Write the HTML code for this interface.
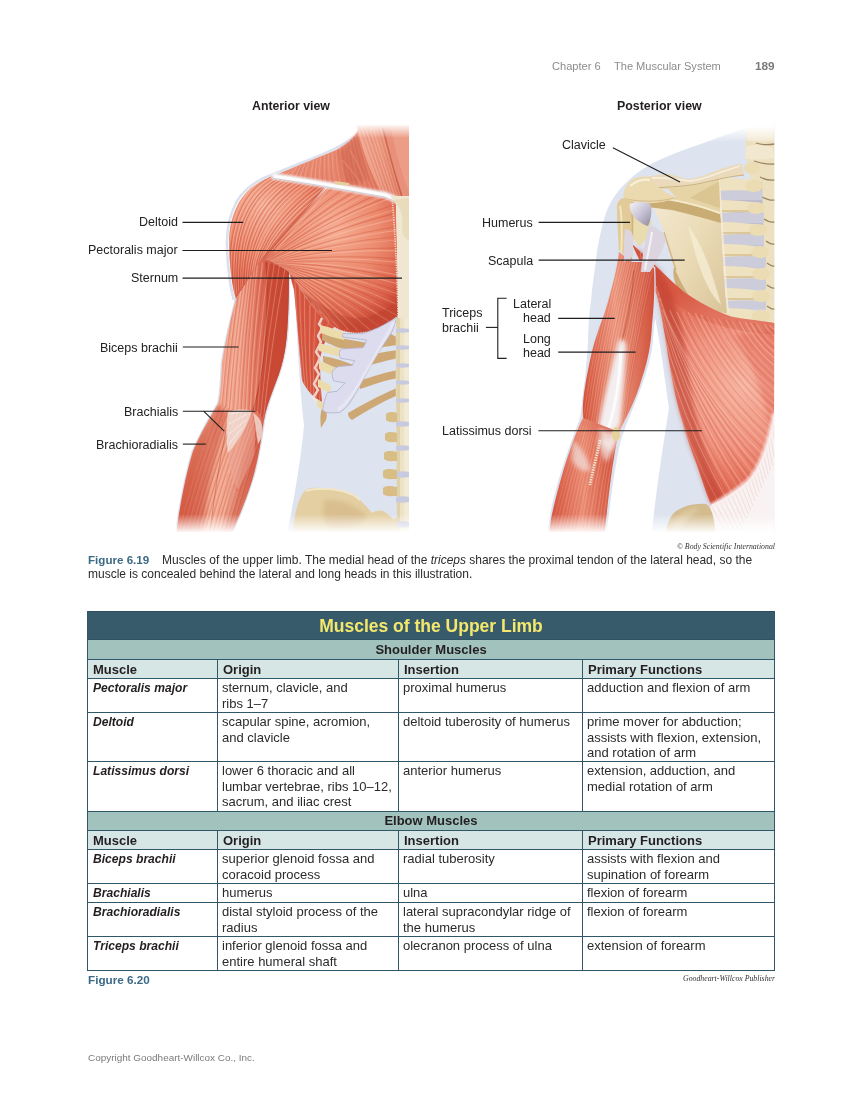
<!DOCTYPE html>
<html><head><meta charset="utf-8"><style>
html,body{margin:0;padding:0;background:#fff;}
body{width:849px;height:1112px;position:relative;overflow:hidden;font-family:"Liberation Sans", sans-serif;}
.t{position:absolute;white-space:nowrap;will-change:transform;}
svg{position:absolute;left:0;top:0;}
</style></head><body>
<svg width="849" height="1112" viewBox="0 0 849 1112">
<defs><linearGradient id="fadeB" x1="0" y1="0" x2="0" y2="1"><stop offset="0" stop-color="#fff" stop-opacity="0"/><stop offset="1" stop-color="#fff" stop-opacity="1"/></linearGradient>
<linearGradient id="fadeT" x1="0" y1="0" x2="0" y2="1"><stop offset="0" stop-color="#fff" stop-opacity="1"/><stop offset="1" stop-color="#fff" stop-opacity="0"/></linearGradient>
<filter id="blur06" x="-5%" y="-50%" width="110%" height="200%"><feGaussianBlur stdDeviation="0.7"/></filter>
<filter id="blur1" x="-20%" y="-20%" width="140%" height="140%"><feGaussianBlur stdDeviation="2"/></filter>
<filter id="fblur" x="-2%" y="-2%" width="104%" height="104%"><feGaussianBlur stdDeviation="0.35"/></filter>
<filter id="blur12" x="-10%" y="-100%" width="120%" height="300%"><feGaussianBlur stdDeviation="1.1"/></filter>
<clipPath id="clipL"><rect x="150" y="120" width="259" height="420"/></clipPath>
<clipPath id="clipR"><rect x="520" y="120" width="254.5" height="420"/></clipPath>
<clipPath id="cNeck"><path d="M360,122 L409,122 L409,206 L390,197 C370,192 350,188 330,184 C320,182 300,179 276,175 C291,168 310,161 336,150 C350,143 359,134 360,122 Z"/></clipPath>
<linearGradient id="gNeck" x1="0" y1="0" x2="1" y2="1"><stop offset="0" stop-color="#ee9a82"/><stop offset="0.6" stop-color="#e6826a"/><stop offset="1" stop-color="#dc6a52"/></linearGradient>
<clipPath id="cSCM"><path d="M356,124 C362,150 370,172 382,194 L404,201 C396,175 388,150 382,124 Z"/></clipPath>
<linearGradient id="gSCM" x1="0" y1="0" x2="1" y2="0"><stop offset="0" stop-color="#f2ad98"/><stop offset="0.5" stop-color="#ec9880"/><stop offset="1" stop-color="#df7a62"/></linearGradient>
<clipPath id="cDelt"><path d="M276,175 C300,179 315,182 327,184 C312,203 292,225 268,252 C258,266 246,282 236,299 C232,288 229,262 229,242 C229,228 232,215 239,202 C248,188 260,180 276,175 Z"/></clipPath>
<radialGradient id="gDelt" cx="268" cy="210" r="75" fx="262" fy="205" gradientUnits="userSpaceOnUse"><stop offset="0" stop-color="#f6b39b"/><stop offset="0.55" stop-color="#ec8a6e"/><stop offset="1" stop-color="#dc6047"/></radialGradient>
<clipPath id="cPec"><path d="M327,184 C350,188 370,192 390,196 L396,204 C397,240 398,290 398,316 C390,322 378,331 367,332 C355,334 344,333 334,327 C322,318 311,306 302,292 C297,283 293,276 289,272 C281,266 272,261 262,258 C290,225 310,205 327,188 Z"/></clipPath>
<radialGradient id="gPec" cx="325" cy="230" r="100" fx="335" fy="230" gradientUnits="userSpaceOnUse"><stop offset="0" stop-color="#f6ae94"/><stop offset="0.5" stop-color="#ec8a6e"/><stop offset="0.85" stop-color="#dc644c"/><stop offset="1" stop-color="#cc4b36"/></radialGradient>
<clipPath id="cSerr"><path d="M289,272 C293,276 297,283 302,292 C311,306 322,318 334,327 C328,335 322,345 320,360 C320,375 321,390 322,402 C314,398 306,390 302,380 C299,350 297,320 294,290 Z"/></clipPath>
<clipPath id="cArm"><path d="M236,299 C246,282 256,268 262,258 C272,261 281,266 289,272 C289,300 288,335 285,350 C283,362 280,372 276,382 C270,398 266,408 264,420 C261,440 259,455 255,470 C250,490 242,510 229,540 L176,540 L178,520 C182,495 187,470 193,451 C202,430 212,414 218,404 C220,398 221,386 222,363 C226,338 231,318 236,299 Z"/></clipPath>
<linearGradient id="gArm" x1="0" y1="0" x2="1" y2="0"><stop offset="0" stop-color="#da5c43"/><stop offset="0.3" stop-color="#f2a88f"/><stop offset="0.55" stop-color="#f0a088"/><stop offset="0.8" stop-color="#d9604a"/><stop offset="1" stop-color="#c4432f"/></linearGradient>
<clipPath id="cLat"><path d="M632,244 C640,262 650,280 657,295 C661,310 665,335 668,355 C672,380 677,405 682,420 C686,435 691,450 697,465 C702,480 707,495 711,505 C722,500 735,492 747,482 C760,470 770,440 774,413 L774.5,323 C755,320 742,319 731,316.6 C722,313 714,310 707,306 C698,301 691,297 684,292 C676,285 668,278 660,270 C651,262 642,253 632,244 Z"/></clipPath>
<radialGradient id="gLat" cx="735" cy="390" r="115" fx="745" fy="385" gradientUnits="userSpaceOnUse"><stop offset="0" stop-color="#f6b4a2"/><stop offset="0.5" stop-color="#ef927e"/><stop offset="1" stop-color="#dc5e48"/></radialGradient>
<clipPath id="cFascia"><path d="M711,505 C722,500 735,492 747,482 C760,470 770,440 774,413 L774.5,540 L705,540 Z"/></clipPath>
<clipPath id="cUArm"><path d="M619,252 C616,275 610,295 604,315 C598,330 593,345 589,365 C585,385 582,402 583,418 C586,424 600,432 619,432 C626,418 636,400 642,378 C648,360 651,345 652,325 C654,305 655,285 654,268 L645,262 L632,262 Z"/></clipPath>
<clipPath id="cFArm"><path d="M583,418 C578,428 574,438 570,450 C563,470 556,495 551,519 L548,540 L604,540 C607,510 610,480 615,451 C617,440 618,435 619,432 Z"/></clipPath>
<linearGradient id="gUArm" x1="0" y1="0" x2="1" y2="0"><stop offset="0" stop-color="#d4513a"/><stop offset="0.45" stop-color="#ef9c84"/><stop offset="1" stop-color="#d0503a"/></linearGradient>
<linearGradient id="gFArm" x1="0" y1="0" x2="1" y2="0"><stop offset="0" stop-color="#d24e38"/><stop offset="0.5" stop-color="#ec8e76"/><stop offset="1" stop-color="#cf4d37"/></linearGradient></defs>
<g clip-path="url(#clipL)"><path d="M294,270 C296,330 300,390 304,425 C302,450 296,490 286,540 L409,540 L409,270 Z" fill="#dde3ef"/>
<path d="M236,299 C246,282 256,268 262,258 C272,261 281,266 289,272 C289,300 288,335 285,350 C283,362 280,372 276,382 C270,398 266,408 264,420 C261,440 259,455 255,470 C250,490 242,510 229,540 L176,540 L178,520 C182,495 187,470 193,451 C202,430 212,414 218,404 C220,398 221,386 222,363 C226,338 231,318 236,299 Z" fill="#dae1ee" stroke="#dae1ee" stroke-width="2.6"/>
<g fill="none" stroke="#dae1ee" stroke-width="2.6" stroke-linejoin="round"><path d="M361,122 L360,132 C350,142 336,149 309,160 C290,167 282,171 274,174 C258,179 246,187 237,201 C230,214 227,228 227,242 C227,262 230,288 234,300"/></g>
<path d="M360,122 L409,122 L409,206 L390,197 C370,192 350,188 330,184 C320,182 300,179 276,175 C291,168 310,161 336,150 C350,143 359,134 360,122 Z" fill="url(#gNeck)"/>
<g clip-path="url(#cNeck)"><g fill="none" stroke-linecap="round" filter="url(#fblur)" opacity="0.75">
<path d="M359.5,125.7 Q368.1,163.5 384.0,198.8" stroke="#fcd2c0" stroke-opacity="0.45" stroke-width="0.55"/>
<path d="M358.0,127.7 Q365.9,164.1 380.8,198.2" stroke="#c4432f" stroke-opacity="0.30" stroke-width="0.52"/>
<path d="M356.8,129.3 Q364.1,164.6 378.4,197.7" stroke="#fcd2c0" stroke-opacity="0.45" stroke-width="0.64"/>
<path d="M355.9,130.5 Q362.8,164.9 376.5,197.3" stroke="#c4432f" stroke-opacity="0.30" stroke-width="0.70"/>
<path d="M354.6,132.2 Q361.0,165.5 373.9,196.8" stroke="#fcd2c0" stroke-opacity="0.45" stroke-width="0.67"/>
<path d="M353.3,134.0 Q359.1,166.0 371.2,196.2" stroke="#c4432f" stroke-opacity="0.30" stroke-width="0.53"/>
<path d="M351.7,136.0 Q356.9,166.6 368.0,195.6" stroke="#fcd2c0" stroke-opacity="0.45" stroke-width="0.84"/>
<path d="M350.7,137.4 Q355.4,167.1 365.8,195.2" stroke="#c4432f" stroke-opacity="0.30" stroke-width="0.58"/>
<path d="M349.0,139.7 Q353.0,167.7 362.4,194.5" stroke="#fcd2c0" stroke-opacity="0.45" stroke-width="0.89"/>
<path d="M347.8,141.3 Q351.2,168.2 359.8,194.0" stroke="#c4432f" stroke-opacity="0.30" stroke-width="0.66"/>
<path d="M346.2,143.4 Q348.9,168.9 356.6,193.3" stroke="#fcd2c0" stroke-opacity="0.45" stroke-width="0.51"/>
<path d="M345.0,145.0 Q347.1,169.4 354.1,192.8" stroke="#c4432f" stroke-opacity="0.30" stroke-width="0.61"/>
<path d="M343.9,145.6 Q345.9,169.5 352.6,192.5" stroke="#fcd2c0" stroke-opacity="0.45" stroke-width="0.54"/>
<path d="M341.8,146.7 Q343.5,169.7 349.7,192.0" stroke="#c4432f" stroke-opacity="0.30" stroke-width="0.83"/>
<path d="M340.0,147.6 Q341.5,169.9 347.3,191.5" stroke="#fcd2c0" stroke-opacity="0.45" stroke-width="0.73"/>
<path d="M337.6,148.8 Q338.7,170.2 343.9,190.9" stroke="#c4432f" stroke-opacity="0.30" stroke-width="0.65"/>
<path d="M335.8,149.8 Q336.6,170.4 341.4,190.4" stroke="#fcd2c0" stroke-opacity="0.45" stroke-width="0.52"/>
<path d="M334.5,150.5 Q335.0,170.5 339.5,190.1" stroke="#c4432f" stroke-opacity="0.30" stroke-width="0.58"/>
<path d="M331.9,151.8 Q332.0,170.8 335.9,189.4" stroke="#fcd2c0" stroke-opacity="0.45" stroke-width="0.67"/>
<path d="M330.4,152.6 Q330.3,171.0 333.8,189.0" stroke="#c4432f" stroke-opacity="0.30" stroke-width="0.74"/>
<path d="M328.4,153.7 Q327.9,171.2 331.0,188.5" stroke="#fcd2c0" stroke-opacity="0.45" stroke-width="0.62"/>
<path d="M326.1,154.8 Q325.3,171.4 327.8,187.9" stroke="#c4432f" stroke-opacity="0.30" stroke-width="0.78"/>
<path d="M324.8,155.5 Q323.8,171.6 326.0,187.5" stroke="#fcd2c0" stroke-opacity="0.45" stroke-width="0.73"/>
<path d="M322.6,156.7 Q321.3,171.8 322.9,186.9" stroke="#c4432f" stroke-opacity="0.30" stroke-width="0.86"/>
<path d="M320.5,157.8 Q318.8,172.0 320.0,186.4" stroke="#fcd2c0" stroke-opacity="0.45" stroke-width="0.61"/>
<path d="M318.2,158.7 Q316.2,172.2 317.0,185.7" stroke="#c4432f" stroke-opacity="0.30" stroke-width="0.54"/>
<path d="M316.9,159.2 Q314.8,172.2 315.2,185.3" stroke="#fcd2c0" stroke-opacity="0.45" stroke-width="0.81"/>
<path d="M315.2,159.9 Q312.9,172.2 313.0,184.7" stroke="#c4432f" stroke-opacity="0.30" stroke-width="0.70"/>
<path d="M313.4,160.7 Q310.8,172.2 310.6,184.1" stroke="#fcd2c0" stroke-opacity="0.45" stroke-width="0.77"/>
<path d="M310.5,161.8 Q307.6,172.3 306.9,183.1" stroke="#c4432f" stroke-opacity="0.30" stroke-width="0.73"/>
<path d="M308.4,162.6 Q305.3,172.3 304.1,182.3" stroke="#fcd2c0" stroke-opacity="0.45" stroke-width="0.62"/>
<path d="M306.6,163.3 Q303.3,172.3 301.8,181.7" stroke="#c4432f" stroke-opacity="0.30" stroke-width="0.74"/>
<path d="M304.8,164.1 Q301.2,172.3 299.4,181.1" stroke="#fcd2c0" stroke-opacity="0.45" stroke-width="0.68"/>
<path d="M302.5,165.0 Q298.7,172.3 296.4,180.3" stroke="#c4432f" stroke-opacity="0.30" stroke-width="0.89"/>
<path d="M300.9,165.6 Q296.9,172.4 294.3,179.8" stroke="#fcd2c0" stroke-opacity="0.45" stroke-width="0.77"/>
<path d="M299.5,166.2 Q295.3,172.4 292.4,179.3" stroke="#c4432f" stroke-opacity="0.30" stroke-width="0.78"/>
<path d="M296.8,167.3 Q292.3,172.4 288.9,178.3" stroke="#fcd2c0" stroke-opacity="0.45" stroke-width="0.91"/>
<path d="M294.6,168.2 Q289.8,172.4 286.0,177.6" stroke="#c4432f" stroke-opacity="0.30" stroke-width="0.61"/>
<path d="M293.1,168.8 Q288.2,172.5 284.1,177.1" stroke="#fcd2c0" stroke-opacity="0.45" stroke-width="0.77"/>
<path d="M291.6,169.4 Q286.4,172.5 282.0,176.5" stroke="#c4432f" stroke-opacity="0.30" stroke-width="0.68"/>
</g></g>
<path d="M338,152 C346,146 352,140 358,133 C363,150 366,165 369,180 C362,184 354,185 346,184 C343,175 341,162 338,152 Z" fill="#cd5e48" opacity="0.55" filter="url(#blur1)"/>
<path d="M342,160 C350,168 356,176 362,186 M350,150 C356,160 362,172 366,184" stroke="#e88a72" stroke-width="1.5" fill="none" opacity="0.6"/>
<path d="M356,124 C362,150 370,172 382,194 L404,201 C396,175 388,150 382,124 Z" fill="url(#gSCM)"/>
<g clip-path="url(#cSCM)"><g fill="none" stroke-linecap="round" filter="url(#fblur)" opacity="0.75">
<path d="M356.6,124.0 Q369.5,159.6 382.5,195.1" stroke="#fad0c0" stroke-opacity="0.50" stroke-width="0.54"/>
<path d="M358.3,124.0 Q371.1,159.8 383.9,195.5" stroke="#c4432f" stroke-opacity="0.25" stroke-width="0.81"/>
<path d="M360.2,124.0 Q372.9,160.0 385.6,196.0" stroke="#fad0c0" stroke-opacity="0.50" stroke-width="0.59"/>
<path d="M362.4,124.0 Q374.9,160.2 387.4,196.5" stroke="#c4432f" stroke-opacity="0.25" stroke-width="0.86"/>
<path d="M363.9,124.0 Q376.3,160.4 388.7,196.8" stroke="#fad0c0" stroke-opacity="0.50" stroke-width="0.68"/>
<path d="M366.3,124.0 Q378.5,160.7 390.7,197.4" stroke="#c4432f" stroke-opacity="0.25" stroke-width="0.86"/>
<path d="M368.4,124.0 Q380.5,160.9 392.5,197.9" stroke="#fad0c0" stroke-opacity="0.50" stroke-width="0.85"/>
<path d="M369.7,124.0 Q381.6,161.1 393.6,198.2" stroke="#c4432f" stroke-opacity="0.25" stroke-width="0.66"/>
<path d="M371.6,124.0 Q383.4,161.3 395.2,198.6" stroke="#fad0c0" stroke-opacity="0.50" stroke-width="0.86"/>
<path d="M374.2,124.0 Q385.8,161.6 397.4,199.2" stroke="#c4432f" stroke-opacity="0.25" stroke-width="0.55"/>
<path d="M375.1,124.0 Q386.7,161.7 398.2,199.4" stroke="#fad0c0" stroke-opacity="0.50" stroke-width="0.59"/>
<path d="M377.1,124.0 Q388.4,161.9 399.8,199.9" stroke="#c4432f" stroke-opacity="0.25" stroke-width="0.69"/>
<path d="M379.3,124.0 Q390.5,162.2 401.7,200.4" stroke="#fad0c0" stroke-opacity="0.50" stroke-width="0.60"/>
<path d="M380.5,124.0 Q391.6,162.3 402.7,200.7" stroke="#c4432f" stroke-opacity="0.25" stroke-width="0.67"/>
</g></g>
<path d="M382,124 L409,124 L409,206 L404,201 C396,175 388,150 382,124 Z" fill="#e8907a"/>
<path d="M390,124 C395,150 402,175 409,192 L409,124 Z" fill="#eea08a" opacity="0.8"/>
<path d="M383,128 C388,150 396,178 403,200" stroke="#b8452f" stroke-width="1.6" fill="none" opacity="0.45" filter="url(#blur06)"/>
<path d="M362,190 C372,193 382,196 392,199" stroke="#f6e4dc" stroke-width="3" fill="none" opacity="0.6" filter="url(#blur06)"/>
<path d="M276,175 C300,179 315,182 327,184 C312,203 292,225 268,252 C258,266 246,282 236,299 C232,288 229,262 229,242 C229,228 232,215 239,202 C248,188 260,180 276,175 Z" fill="url(#gDelt)"/>
<g clip-path="url(#cDelt)"><g fill="none" stroke-linecap="round" filter="url(#fblur)" opacity="0.75">
<path d="M268.8,176.2 Q218.8,200.4 230.4,301.4" stroke="#fcd2c0" stroke-opacity="0.50" stroke-width="1.14"/>
<path d="M271.5,176.7 Q221.4,201.9 231.9,299.7" stroke="#c4432f" stroke-opacity="0.50" stroke-width="1.23"/>
<path d="M273.0,176.9 Q222.7,202.6 232.6,298.7" stroke="#fcd2c0" stroke-opacity="0.50" stroke-width="1.18"/>
<path d="M275.1,177.3 Q224.8,203.8 233.8,297.3" stroke="#c4432f" stroke-opacity="0.50" stroke-width="0.81"/>
<path d="M277.4,177.8 Q227.0,205.0 235.0,295.8" stroke="#fcd2c0" stroke-opacity="0.50" stroke-width="1.28"/>
<path d="M279.3,178.1 Q228.8,206.0 236.0,294.5" stroke="#c4432f" stroke-opacity="0.50" stroke-width="1.30"/>
<path d="M280.7,178.4 Q230.2,206.8 236.7,293.6" stroke="#fcd2c0" stroke-opacity="0.50" stroke-width="1.03"/>
<path d="M282.4,178.7 Q231.7,207.6 237.6,292.5" stroke="#c4432f" stroke-opacity="0.50" stroke-width="1.19"/>
<path d="M284.3,179.1 Q233.6,208.7 238.6,291.2" stroke="#fcd2c0" stroke-opacity="0.50" stroke-width="0.81"/>
<path d="M286.5,179.5 Q235.6,209.8 239.7,289.8" stroke="#c4432f" stroke-opacity="0.50" stroke-width="0.88"/>
<path d="M288.6,179.9 Q237.7,210.9 240.9,288.4" stroke="#fcd2c0" stroke-opacity="0.50" stroke-width="0.80"/>
<path d="M290.2,180.2 Q239.2,211.8 241.7,287.4" stroke="#c4432f" stroke-opacity="0.50" stroke-width="0.87"/>
<path d="M292.3,180.5 Q241.2,212.9 242.8,286.0" stroke="#fcd2c0" stroke-opacity="0.50" stroke-width="1.01"/>
<path d="M294.2,180.9 Q243.0,213.9 243.8,284.7" stroke="#c4432f" stroke-opacity="0.50" stroke-width="1.35"/>
<path d="M296.8,181.4 Q245.6,215.2 245.2,283.0" stroke="#fcd2c0" stroke-opacity="0.50" stroke-width="0.87"/>
<path d="M298.4,181.7 Q247.2,215.8 246.0,282.0" stroke="#c4432f" stroke-opacity="0.50" stroke-width="1.00"/>
<path d="M300.5,182.1 Q249.4,216.6 247.2,280.6" stroke="#fcd2c0" stroke-opacity="0.50" stroke-width="0.85"/>
<path d="M303.0,182.7 Q252.0,217.6 248.6,278.9" stroke="#c4432f" stroke-opacity="0.50" stroke-width="1.43"/>
<path d="M304.5,183.0 Q253.5,218.2 249.4,277.9" stroke="#fcd2c0" stroke-opacity="0.50" stroke-width="1.09"/>
<path d="M306.1,183.4 Q255.1,218.8 250.2,276.9" stroke="#c4432f" stroke-opacity="0.50" stroke-width="0.84"/>
<path d="M308.3,183.9 Q257.4,219.7 251.4,275.5" stroke="#fcd2c0" stroke-opacity="0.50" stroke-width="0.94"/>
<path d="M310.9,184.5 Q260.1,220.6 252.8,273.8" stroke="#c4432f" stroke-opacity="0.50" stroke-width="0.88"/>
<path d="M311.9,184.7 Q261.1,221.0 253.4,273.1" stroke="#fcd2c0" stroke-opacity="0.50" stroke-width="1.40"/>
<path d="M314.4,185.3 Q263.8,222.0 254.8,271.5" stroke="#c4432f" stroke-opacity="0.50" stroke-width="0.87"/>
<path d="M316.4,185.7 Q265.8,222.8 255.9,270.2" stroke="#fcd2c0" stroke-opacity="0.50" stroke-width="0.79"/>
<path d="M318.3,186.2 Q267.8,223.6 256.9,268.9" stroke="#c4432f" stroke-opacity="0.50" stroke-width="1.42"/>
<path d="M320.7,186.7 Q270.2,224.5 258.2,267.4" stroke="#fcd2c0" stroke-opacity="0.50" stroke-width="1.23"/>
<path d="M322.0,187.0 Q271.5,225.0 258.9,266.5" stroke="#c4432f" stroke-opacity="0.50" stroke-width="1.01"/>
<path d="M323.8,187.4 Q273.4,225.7 259.9,265.3" stroke="#fcd2c0" stroke-opacity="0.50" stroke-width="1.28"/>
<path d="M326.2,188.0 Q275.9,226.6 261.2,263.8" stroke="#c4432f" stroke-opacity="0.50" stroke-width="1.28"/>
<path d="M327.9,188.4 Q277.7,227.3 262.1,262.6" stroke="#fcd2c0" stroke-opacity="0.50" stroke-width="0.92"/>
<path d="M330.5,189.0 Q280.3,228.2 263.5,261.0" stroke="#c4432f" stroke-opacity="0.50" stroke-width="1.42"/>
<path d="M332.5,189.4 Q282.4,229.0 264.6,259.7" stroke="#fcd2c0" stroke-opacity="0.50" stroke-width="1.30"/>
<path d="M334.4,189.9 Q284.4,229.8 265.7,258.4" stroke="#c4432f" stroke-opacity="0.50" stroke-width="1.26"/>
</g></g>
<path d="M327,184 C350,188 370,192 390,196 L396,204 C397,240 398,290 398,316 C390,322 378,331 367,332 C355,334 344,333 334,327 C322,318 311,306 302,292 C297,283 293,276 289,272 C281,266 272,261 262,258 C290,225 310,205 327,188 Z" fill="url(#gPec)"/>
<g clip-path="url(#cPec)"><g fill="none" stroke-linecap="round" filter="url(#fblur)" opacity="0.75">
<path d="M328.8,185.3 Q292.1,217.8 264.1,258.1" stroke="#fcd2c0" stroke-opacity="0.45" stroke-width="1.01"/>
<path d="M334.5,186.1 Q295.2,218.0 264.5,258.3" stroke="#c4432f" stroke-opacity="0.45" stroke-width="0.72"/>
<path d="M338.8,186.8 Q297.5,218.2 264.8,258.4" stroke="#fcd2c0" stroke-opacity="0.45" stroke-width="0.87"/>
<path d="M344.8,187.7 Q300.8,218.4 265.3,258.6" stroke="#c4432f" stroke-opacity="0.45" stroke-width="1.12"/>
<path d="M352.3,188.8 Q304.8,218.7 265.8,258.9" stroke="#fcd2c0" stroke-opacity="0.45" stroke-width="0.97"/>
<path d="M357.6,189.6 Q307.7,218.9 266.2,259.1" stroke="#c4432f" stroke-opacity="0.45" stroke-width="1.29"/>
<path d="M362.9,190.7 Q310.6,219.2 266.5,259.3" stroke="#fcd2c0" stroke-opacity="0.45" stroke-width="0.92"/>
<path d="M365.8,191.4 Q312.2,219.5 266.7,259.4" stroke="#c4432f" stroke-opacity="0.45" stroke-width="0.84"/>
<path d="M370.9,192.7 Q315.0,219.9 267.1,259.6" stroke="#fcd2c0" stroke-opacity="0.45" stroke-width="0.82"/>
<path d="M377.4,194.4 Q318.6,220.5 267.6,259.8" stroke="#c4432f" stroke-opacity="0.45" stroke-width="1.24"/>
<path d="M383.3,195.8 Q321.8,221.0 268.0,260.0" stroke="#fcd2c0" stroke-opacity="0.45" stroke-width="0.99"/>
<path d="M387.9,197.0 Q324.3,221.4 268.3,260.2" stroke="#c4432f" stroke-opacity="0.45" stroke-width="1.18"/>
<path d="M391.4,197.8 Q326.2,221.7 268.6,260.3" stroke="#fcd2c0" stroke-opacity="0.45" stroke-width="1.10"/>
<path d="M392.9,205.3 Q327.7,225.5 269.1,260.6" stroke="#c4432f" stroke-opacity="0.45" stroke-width="1.17"/>
<path d="M393.4,210.1 Q328.4,228.0 269.5,260.7" stroke="#fcd2c0" stroke-opacity="0.45" stroke-width="0.99"/>
<path d="M393.9,213.6 Q329.0,229.8 269.7,260.9" stroke="#c4432f" stroke-opacity="0.45" stroke-width="1.17"/>
<path d="M394.6,219.4 Q329.9,232.8 270.1,261.1" stroke="#fcd2c0" stroke-opacity="0.45" stroke-width="1.18"/>
<path d="M395.4,226.8 Q331.0,236.6 270.7,261.3" stroke="#c4432f" stroke-opacity="0.45" stroke-width="0.94"/>
<path d="M395.8,230.3 Q331.5,238.4 270.9,261.5" stroke="#fcd2c0" stroke-opacity="0.45" stroke-width="1.27"/>
<path d="M396.6,236.7 Q332.5,241.7 271.4,261.7" stroke="#c4432f" stroke-opacity="0.45" stroke-width="0.80"/>
<path d="M397.0,240.1 Q333.0,243.4 271.6,261.8" stroke="#fcd2c0" stroke-opacity="0.45" stroke-width="0.79"/>
<path d="M397.2,248.0 Q333.8,247.5 272.1,262.1" stroke="#c4432f" stroke-opacity="0.45" stroke-width="1.18"/>
<path d="M397.3,250.9 Q334.1,249.0 272.3,262.2" stroke="#fcd2c0" stroke-opacity="0.45" stroke-width="1.20"/>
<path d="M397.5,258.9 Q335.0,253.2 272.9,262.5" stroke="#c4432f" stroke-opacity="0.45" stroke-width="1.09"/>
<path d="M397.6,262.3 Q335.3,255.0 273.1,262.6" stroke="#fcd2c0" stroke-opacity="0.45" stroke-width="1.03"/>
<path d="M397.7,266.9 Q335.8,257.4 273.5,262.7" stroke="#c4432f" stroke-opacity="0.45" stroke-width="0.71"/>
<path d="M397.9,275.0 Q336.7,261.6 274.0,263.0" stroke="#fcd2c0" stroke-opacity="0.45" stroke-width="1.09"/>
<path d="M398.0,278.9 Q337.1,263.6 274.3,263.2" stroke="#c4432f" stroke-opacity="0.45" stroke-width="1.26"/>
<path d="M398.0,284.0 Q337.6,266.3 274.7,263.3" stroke="#fcd2c0" stroke-opacity="0.45" stroke-width="1.22"/>
<path d="M398.0,290.6 Q338.2,269.7 275.1,263.6" stroke="#c4432f" stroke-opacity="0.45" stroke-width="0.83"/>
<path d="M398.0,294.1 Q338.5,271.5 275.4,263.7" stroke="#fcd2c0" stroke-opacity="0.45" stroke-width="0.88"/>
<path d="M398.0,299.4 Q339.0,274.3 275.7,263.9" stroke="#c4432f" stroke-opacity="0.45" stroke-width="1.05"/>
<path d="M398.0,304.9 Q339.5,277.2 276.1,264.1" stroke="#fcd2c0" stroke-opacity="0.45" stroke-width="0.95"/>
<path d="M398.0,309.8 Q339.9,279.8 276.4,264.4" stroke="#c4432f" stroke-opacity="0.45" stroke-width="1.25"/>
<path d="M398.0,315.9 Q340.4,283.0 276.7,264.7" stroke="#fcd2c0" stroke-opacity="0.45" stroke-width="0.97"/>
<path d="M392.7,318.8 Q338.1,285.0 277.0,265.0" stroke="#c4432f" stroke-opacity="0.45" stroke-width="1.24"/>
<path d="M388.4,321.0 Q336.2,286.5 277.3,265.3" stroke="#fcd2c0" stroke-opacity="0.45" stroke-width="1.25"/>
<path d="M383.4,323.6 Q334.0,288.2 277.6,265.6" stroke="#c4432f" stroke-opacity="0.45" stroke-width="1.02"/>
<path d="M378.5,326.0 Q331.8,289.9 277.9,265.9" stroke="#fcd2c0" stroke-opacity="0.45" stroke-width="0.71"/>
<path d="M374.0,328.4 Q329.9,291.5 278.2,266.2" stroke="#c4432f" stroke-opacity="0.45" stroke-width="0.81"/>
<path d="M370.5,330.2 Q328.3,292.7 278.5,266.3" stroke="#fcd2c0" stroke-opacity="0.45" stroke-width="1.18"/>
<path d="M365.0,331.7 Q325.9,294.0 278.9,266.6" stroke="#c4432f" stroke-opacity="0.45" stroke-width="0.98"/>
<path d="M358.0,330.6 Q322.5,294.0 279.3,266.9" stroke="#fcd2c0" stroke-opacity="0.45" stroke-width="1.03"/>
<path d="M354.0,330.0 Q320.6,294.1 279.6,267.1" stroke="#c4432f" stroke-opacity="0.45" stroke-width="1.01"/>
<path d="M347.9,329.1 Q317.7,294.1 280.0,267.3" stroke="#fcd2c0" stroke-opacity="0.45" stroke-width="1.17"/>
<path d="M344.0,328.5 Q315.8,294.2 280.3,267.5" stroke="#c4432f" stroke-opacity="0.45" stroke-width="1.04"/>
<path d="M338.3,327.7 Q313.1,294.2 280.6,267.8" stroke="#fcd2c0" stroke-opacity="0.45" stroke-width="0.87"/>
<path d="M332.2,325.0 Q310.0,293.5 281.1,268.1" stroke="#c4432f" stroke-opacity="0.45" stroke-width="1.00"/>
<path d="M329.0,321.5 Q308.4,292.0 281.4,268.3" stroke="#fcd2c0" stroke-opacity="0.45" stroke-width="1.16"/>
<path d="M324.6,316.8 Q306.1,290.1 281.8,268.5" stroke="#c4432f" stroke-opacity="0.45" stroke-width="0.97"/>
<path d="M321.7,313.5 Q304.6,288.7 282.1,268.7" stroke="#fcd2c0" stroke-opacity="0.45" stroke-width="1.00"/>
<path d="M318.3,309.8 Q302.8,287.2 282.4,269.0" stroke="#c4432f" stroke-opacity="0.45" stroke-width="1.12"/>
<path d="M314.8,306.0 Q301.0,285.7 282.8,269.2" stroke="#fcd2c0" stroke-opacity="0.45" stroke-width="1.02"/>
<path d="M311.1,301.9 Q299.1,284.0 283.1,269.4" stroke="#c4432f" stroke-opacity="0.45" stroke-width="1.26"/>
<path d="M307.0,297.5 Q296.9,282.2 283.5,269.7" stroke="#fcd2c0" stroke-opacity="0.45" stroke-width="1.23"/>
<path d="M302.8,292.9 Q294.8,280.3 283.9,269.9" stroke="#c4432f" stroke-opacity="0.45" stroke-width="0.86"/>
</g></g>
<path d="M327,185 C312,203 292,225 270,250 C262,260 252,275 242,290" stroke="#b4412e" stroke-width="2.2" fill="none" opacity="0.45" filter="url(#blur06)"/>
<path d="M330,187 C315,205 296,228 275,252" stroke="#f5b9a6" stroke-width="1.5" fill="none" opacity="0.5"/>
<path d="M300,290 C320,315 345,333 367,332 C378,331 390,322 398,316 L398,300 C385,312 370,318 355,318 C335,316 315,300 300,290 Z" fill="#b53f2d" opacity="0.35"/>
<path d="M392,198 C395,230 397,270 398,316" stroke="#f3dcd0" stroke-width="1.6" fill="none" stroke-dasharray="1.2 1.2"/>
<path d="M398,316 C390,322 378,331 367,332 C355,334 344,333 334,327" stroke="#f3dcd0" stroke-width="1.4" fill="none" stroke-dasharray="1 1.4" opacity="0.8"/>
<path d="M272,176 C300,180 330,185 385,195 L407,204" stroke="#f2f2f5" stroke-width="6.5" fill="none" filter="url(#blur12)"/>
<path d="M274,176.5 C300,180 330,185 385,195 L407,204" stroke="#ffffff" stroke-width="3" fill="none" opacity="0.85"/>
<path d="M272,176 C300,180 330,185 385,195 L407,204" stroke="#c6cad8" stroke-width="1" fill="none" opacity="0.8" transform="translate(0,2.2)"/>
<path d="M335,182.5 L349,184.5" stroke="#e6d09a" stroke-width="3" fill="none"/>
<path d="M390,196 L409,196 L409,335 L398,335 C398,290 397,240 396,204 Z" fill="#efe7d2"/>
<path d="M392,200 C400,205 404,215 402,230 C404,240 409,240 409,240 L409,198 Z" fill="#e8dcbd"/>
<path d="M289,272 C293,276 297,283 302,292 C311,306 322,318 334,327 C328,335 322,345 320,360 C320,375 321,390 322,402 C314,398 306,390 302,380 C299,350 297,320 294,290 Z" fill="#d65640"/>
<g clip-path="url(#cSerr)"><g fill="none" stroke-linecap="round" filter="url(#fblur)" opacity="0.75">
<path d="M290.4,274.0 Q293.4,327.6 300.6,380.8" stroke="#fcd2c0" stroke-opacity="0.40" stroke-width="1.27"/>
<path d="M293.3,278.3 Q295.6,330.6 302.0,382.7" stroke="#c4432f" stroke-opacity="0.35" stroke-width="0.78"/>
<path d="M294.8,280.4 Q296.7,332.1 302.7,383.6" stroke="#fcd2c0" stroke-opacity="0.40" stroke-width="0.97"/>
<path d="M297.3,283.9 Q298.5,334.6 303.8,385.1" stroke="#c4432f" stroke-opacity="0.35" stroke-width="0.84"/>
<path d="M299.6,287.7 Q300.3,337.3 305.0,386.6" stroke="#fcd2c0" stroke-opacity="0.40" stroke-width="1.10"/>
<path d="M302.9,293.2 Q302.9,341.1 306.8,388.8" stroke="#c4432f" stroke-opacity="0.35" stroke-width="1.24"/>
<path d="M304.4,295.6 Q304.1,342.7 307.6,389.6" stroke="#fcd2c0" stroke-opacity="0.40" stroke-width="1.13"/>
<path d="M307.4,300.6 Q306.6,346.1 309.4,391.4" stroke="#c4432f" stroke-opacity="0.35" stroke-width="0.79"/>
<path d="M310.0,305.0 Q308.7,349.0 311.0,393.0" stroke="#fcd2c0" stroke-opacity="0.40" stroke-width="1.28"/>
<path d="M312.0,306.8 Q310.2,350.3 311.8,393.8" stroke="#c4432f" stroke-opacity="0.35" stroke-width="1.27"/>
<path d="M315.6,310.2 Q312.8,352.7 313.4,395.4" stroke="#fcd2c0" stroke-opacity="0.40" stroke-width="0.99"/>
<path d="M320.1,314.3 Q316.1,355.6 315.4,397.1" stroke="#c4432f" stroke-opacity="0.35" stroke-width="1.20"/>
<path d="M321.8,315.8 Q317.3,356.6 316.2,397.7" stroke="#fcd2c0" stroke-opacity="0.40" stroke-width="0.96"/>
<path d="M325.8,319.5 Q320.3,359.1 318.1,399.1" stroke="#c4432f" stroke-opacity="0.35" stroke-width="0.90"/>
<path d="M328.4,321.9 Q322.3,360.8 319.4,400.0" stroke="#fcd2c0" stroke-opacity="0.40" stroke-width="0.89"/>
<path d="M332.8,325.9 Q325.6,363.5 321.4,401.6" stroke="#c4432f" stroke-opacity="0.35" stroke-width="0.71"/>
</g></g>
<path d="M322,318 L319,324 L322,328 L318,336 L321,342 L316,352 L320,358 L315,368 L319,374 L314,384 L318,390 L313,398 L316,402" stroke="#f1e6e2" stroke-width="2.4" fill="none" opacity="0.85" filter="url(#blur06)"/>
<g fill="#cda874"><path d="M322,334 C340,338 355,341 368,343 L386,331 C392,334 395,337 398,337 L398,345 C392,346 386,346 380,348 C370,350 355,350 340,348 C333,346 326,342 322,340 Z"/><path d="M365,356 C378,353 390,351 398,350 L398,358 C390,360 380,362 368,366 Z"/><path d="M323,356 C335,358 346,362 356,366 L352,372 C342,370 330,366 323,362 Z"/><path d="M358,381 C372,377 386,372 398,370 L398,378 C386,380 372,385 360,389 Z"/><path d="M348,413 C362,405 378,396 397,388 L398,395 C382,402 366,411 352,420 C349,418 348,416 348,413 Z"/><path d="M322,408 C326,410 328,412 326,420 L321,428 C320,420 320,414 322,408 Z"/></g>
<g fill="#ecdcab"><path d="M320,325 C330,327 338,330 345,333 L344,340 C336,338 328,336 320,333 Z"/><path d="M319,343 C327,345 334,347 341,349 L340,357 C333,355 326,353 319,351 Z"/><path d="M319,361 C325,363 330,365 335,368 L334,375 C328,373 323,371 319,369 Z"/><path d="M318,379 C323,381 327,383 331,386 L330,393 C326,391 322,389 318,387 Z"/><path d="M317,399 C320,401 324,403 327,406 L326,412 C322,410 319,408 317,406 Z"/></g>
<path d="M397.7,317 C395,322 393.5,328 392.5,331 C388,338 384,344 380.7,349 C376,356 372,363 369,369 C366,375 362,381 359.5,386.6 C356,393 352,399 349,404 C346,408 342,411 339.4,412.5 C334,413 329,413 326.5,412.5 C323,411 322,409 323,407.8 C324,402 326,395 327.7,392.5 C331,392 334,391.5 337,391.3 C340,388 343,385 345.3,383 C340,382 336,381.5 333.6,380.7 C332,377 332,374 332.4,371.2 C335,368 337,367 339.4,366.5 C344,366 349,365.5 352.4,365.4 C353,363 354,361.5 354.8,360.6 C350,360 345,359 340.6,358.3 C339.5,356 339.2,354 339.4,352.4 C340,350 341,349 341.8,348.9 C348,348.5 356,348 363,347.7 C365,345 366,342 366.5,340 C358,339 350,338 343,337 C342,335.5 342.5,334 343,333.6 C350,333.6 357,333.6 363,333.6 C368,332 373,330 378.3,327.7 C386,324 392,320 397.7,317 Z" fill="#dcdcee" stroke="#b6b5d0" stroke-width="0.9"/>
<path d="M394,322 C384,340 372,362 360,382 C352,396 345,405 338,410" stroke="#f2f2fa" stroke-width="3" fill="none" opacity="0.5" filter="url(#blur06)"/>
<path d="M396,318 L409,318 L409,540 L397,540 C397,480 395,400 396,318 Z" fill="#ece2c6"/>
<path d="M396,318 L400,318 L400,540 L397,540 Z" fill="#d9c79c" opacity="0.6"/>
<path d="M404,318 L409,318 L409,540 L404,540 Z" fill="#f6f0e0" opacity="0.6"/>
<g fill="#c8cbe0"><path d="M396,329 C400,328 405,328 409,329 L409,332 C405,333 400,333 396,332 Z"/><path d="M396,346 C400,345 405,345 409,346 L409,349 C405,350 400,350 396,349 Z"/><path d="M396,364 C400,363 405,363 409,364 L409,367 C405,368 400,368 396,367 Z"/><path d="M396,381 C400,380 405,380 409,381 L409,384 C405,385 400,385 396,384 Z"/><path d="M396,399 C400,398 405,398 409,399 L409,402 C405,403 400,403 396,402 Z"/><path d="M396,422 C400,421 405,421 409,422 L409,426 C405,427 400,427 396,426 Z"/><path d="M396,446 C400,445 405,445 409,446 L409,450 C405,451 400,451 396,450 Z"/><path d="M396,472 C400,471 405,471 409,472 L409,477 C405,478 400,478 396,477 Z"/><path d="M396,497 C400,496 405,496 409,497 L409,502 C405,503 400,503 396,502 Z"/><path d="M396,522 C400,521 405,521 409,522 L409,527 C405,528 400,528 396,527 Z"/></g>
<g fill="#d8bd85"><path d="M386,414 C389,411 394,412 397,413 L397,422 C394,422 389,423 386,420 Z"/><path d="M385,434 C388,431 393,432 397,433 L397,442 C393,442 388,443 385,440 Z"/><path d="M384,453 C387,450 392,451 397,452 L397,461 C392,461 387,462 384,459 Z"/><path d="M383,471 C386,468 391,469 397,470 L397,479 C391,479 386,480 383,477 Z"/><path d="M383,488 C386,485 391,486 397,487 L397,496 C391,496 386,497 383,494 Z"/></g>
<path d="M292,540 C293,525 296,503 303,493 C306,489 309,488 312,488 C320,487 332,488 342,491 C350,493 356,496 360,500 C365,505 369,509 372,513 C375,511 379,510 383,511 C387,513 390,516 393,519 L397,518 L397,540 Z" fill="#e4cfa2"/>
<path d="M325,500 C340,498 355,505 368,516 C360,525 350,532 335,532 C325,528 320,515 325,500 Z" fill="#c9a774" opacity="0.4" filter="url(#blur1)"/>
<path d="M306,491 C315,488 330,488 342,491 C350,493 356,496 360,500" stroke="#f2e6c8" stroke-width="2" fill="none"/>
<path d="M236,299 C246,282 256,268 262,258 C272,261 281,266 289,272 C289,300 288,335 285,350 C283,362 280,372 276,382 C270,398 266,408 264,420 C261,440 259,455 255,470 C250,490 242,510 229,540 L176,540 L178,520 C182,495 187,470 193,451 C202,430 212,414 218,404 C220,398 221,386 222,363 C226,338 231,318 236,299 Z" fill="url(#gArm)"/>
<path d="M266,262 C276,265 283,268 289,272 C289,300 288,335 285,350 C283,362 280,372 276,382 C270,398 266,408 264,420 C260,414 257,410 253,410 C262,380 270,330 266,262 Z" fill="#c64630" opacity="0.7"/>
<path d="M266,262 C270,330 262,380 253,410" stroke="#a83522" stroke-width="1.2" fill="none" opacity="0.5"/>
<g clip-path="url(#cArm)"><g fill="none" stroke-linecap="round" filter="url(#fblur)" opacity="0.75">
<path d="M233.1,298.8 Q224.9,351.8 220.9,405.4" stroke="#fcd2c0" stroke-opacity="0.50" stroke-width="0.96"/>
<path d="M234.4,297.2 Q226.1,351.3 222.1,405.9" stroke="#c4432f" stroke-opacity="0.40" stroke-width="0.90"/>
<path d="M237.1,294.1 Q228.6,350.3 224.6,406.9" stroke="#fcd2c0" stroke-opacity="0.50" stroke-width="1.01"/>
<path d="M238.4,292.6 Q229.8,349.8 225.7,407.4" stroke="#c4432f" stroke-opacity="0.40" stroke-width="1.29"/>
<path d="M241.2,289.3 Q232.4,348.6 228.3,408.5" stroke="#fcd2c0" stroke-opacity="0.50" stroke-width="1.28"/>
<path d="M242.4,288.0 Q233.4,348.2 229.3,408.9" stroke="#c4432f" stroke-opacity="0.40" stroke-width="0.86"/>
<path d="M244.3,285.8 Q235.2,347.4 231.0,409.6" stroke="#fcd2c0" stroke-opacity="0.50" stroke-width="1.17"/>
<path d="M246.2,283.0 Q237.1,346.3 233.1,410.2" stroke="#c4432f" stroke-opacity="0.40" stroke-width="0.78"/>
<path d="M248.0,280.2 Q239.0,345.1 235.2,410.5" stroke="#fcd2c0" stroke-opacity="0.50" stroke-width="1.25"/>
<path d="M249.9,277.0 Q241.1,343.7 237.6,410.9" stroke="#c4432f" stroke-opacity="0.40" stroke-width="0.86"/>
<path d="M250.9,275.5 Q242.1,343.0 238.7,411.0" stroke="#fcd2c0" stroke-opacity="0.50" stroke-width="1.25"/>
<path d="M252.9,272.3 Q244.2,341.6 241.1,411.4" stroke="#c4432f" stroke-opacity="0.40" stroke-width="1.12"/>
<path d="M254.0,270.5 Q245.4,340.8 242.4,411.6" stroke="#fcd2c0" stroke-opacity="0.50" stroke-width="0.73"/>
<path d="M256.2,267.0 Q247.7,339.3 245.0,412.0" stroke="#c4432f" stroke-opacity="0.40" stroke-width="0.96"/>
<path d="M257.2,265.4 Q248.8,338.5 246.2,412.0" stroke="#fcd2c0" stroke-opacity="0.50" stroke-width="1.26"/>
<path d="M260.4,263.7 Q251.6,337.6 248.8,412.0" stroke="#c4432f" stroke-opacity="0.40" stroke-width="1.18"/>
<path d="M262.4,263.4 Q253.3,337.4 250.1,412.0" stroke="#fcd2c0" stroke-opacity="0.50" stroke-width="1.21"/>
<path d="M265.4,262.9 Q255.7,337.2 252.0,412.0" stroke="#c4432f" stroke-opacity="0.40" stroke-width="1.22"/>
<path d="M269.1,262.4 Q258.7,336.9 254.3,412.0" stroke="#fcd2c0" stroke-opacity="0.50" stroke-width="0.90"/>
<path d="M272.2,262.1 Q261.2,336.9 256.3,412.2" stroke="#c4432f" stroke-opacity="0.40" stroke-width="1.26"/>
<path d="M274.3,263.4 Q262.9,338.0 257.5,413.2" stroke="#fcd2c0" stroke-opacity="0.50" stroke-width="0.78"/>
<path d="M277.3,265.1 Q265.3,339.5 259.3,414.6" stroke="#c4432f" stroke-opacity="0.40" stroke-width="0.84"/>
<path d="M279.3,266.3 Q266.9,340.5 260.4,415.5" stroke="#fcd2c0" stroke-opacity="0.50" stroke-width="0.80"/>
<path d="M281.8,267.8 Q268.8,341.8 261.8,416.7" stroke="#c4432f" stroke-opacity="0.40" stroke-width="0.82"/>
<path d="M284.8,269.5 Q271.2,343.4 263.6,418.1" stroke="#fcd2c0" stroke-opacity="0.50" stroke-width="0.88"/>
<path d="M288.1,271.5 Q273.8,345.1 265.5,419.6" stroke="#c4432f" stroke-opacity="0.40" stroke-width="0.87"/>
</g></g>
<g clip-path="url(#cArm)"><g fill="none" stroke-linecap="round" filter="url(#fblur)" opacity="0.75">
<path d="M218.9,404.4 Q193.9,470.9 177.0,540.0" stroke="#fcd2c0" stroke-opacity="0.45" stroke-width="0.81"/>
<path d="M220.6,405.1 Q195.7,471.3 178.8,540.0" stroke="#c4432f" stroke-opacity="0.40" stroke-width="0.71"/>
<path d="M222.4,405.9 Q197.5,471.7 180.7,540.0" stroke="#fcd2c0" stroke-opacity="0.45" stroke-width="0.71"/>
<path d="M224.8,406.9 Q200.0,472.2 183.3,540.0" stroke="#c4432f" stroke-opacity="0.40" stroke-width="1.03"/>
<path d="M226.1,407.5 Q201.4,472.5 184.6,540.0" stroke="#fcd2c0" stroke-opacity="0.45" stroke-width="0.98"/>
<path d="M228.8,408.6 Q204.2,473.1 187.5,540.0" stroke="#c4432f" stroke-opacity="0.40" stroke-width="0.76"/>
<path d="M230.5,409.4 Q206.0,473.4 189.4,540.0" stroke="#fcd2c0" stroke-opacity="0.45" stroke-width="0.96"/>
<path d="M232.0,410.0 Q207.6,473.8 191.0,540.0" stroke="#c4432f" stroke-opacity="0.40" stroke-width="1.20"/>
<path d="M233.9,410.2 Q209.5,473.9 192.9,540.0" stroke="#fcd2c0" stroke-opacity="0.45" stroke-width="1.00"/>
<path d="M236.3,410.5 Q211.9,474.0 195.2,540.0" stroke="#c4432f" stroke-opacity="0.40" stroke-width="1.29"/>
<path d="M237.9,410.7 Q213.5,474.1 196.8,540.0" stroke="#fcd2c0" stroke-opacity="0.45" stroke-width="1.20"/>
<path d="M240.3,410.9 Q215.9,474.2 199.2,540.0" stroke="#c4432f" stroke-opacity="0.40" stroke-width="1.08"/>
<path d="M242.0,411.1 Q217.6,474.3 200.9,540.0" stroke="#fcd2c0" stroke-opacity="0.45" stroke-width="0.91"/>
<path d="M243.6,411.3 Q219.2,474.4 202.5,540.0" stroke="#c4432f" stroke-opacity="0.40" stroke-width="0.78"/>
<path d="M245.6,411.5 Q221.2,474.5 204.5,540.0" stroke="#fcd2c0" stroke-opacity="0.45" stroke-width="1.14"/>
<path d="M247.9,411.8 Q223.4,474.6 206.7,540.0" stroke="#c4432f" stroke-opacity="0.40" stroke-width="0.80"/>
<path d="M249.7,412.0 Q225.2,474.7 208.5,540.0" stroke="#fcd2c0" stroke-opacity="0.45" stroke-width="1.20"/>
<path d="M251.8,413.9 Q227.8,475.8 211.4,540.0" stroke="#c4432f" stroke-opacity="0.40" stroke-width="1.10"/>
<path d="M252.7,414.9 Q229.0,476.3 212.7,540.0" stroke="#fcd2c0" stroke-opacity="0.45" stroke-width="0.85"/>
<path d="M254.1,416.4 Q230.7,477.0 214.8,540.0" stroke="#c4432f" stroke-opacity="0.40" stroke-width="0.98"/>
<path d="M255.3,417.8 Q232.3,477.7 216.6,540.0" stroke="#fcd2c0" stroke-opacity="0.45" stroke-width="0.97"/>
<path d="M256.8,419.4 Q234.1,478.5 218.7,540.0" stroke="#c4432f" stroke-opacity="0.40" stroke-width="1.28"/>
<path d="M258.8,421.5 Q236.6,479.6 221.6,540.0" stroke="#fcd2c0" stroke-opacity="0.45" stroke-width="1.03"/>
<path d="M259.5,422.3 Q237.6,480.1 222.7,540.0" stroke="#c4432f" stroke-opacity="0.40" stroke-width="1.28"/>
<path d="M261.0,423.9 Q239.4,480.9 224.8,540.0" stroke="#fcd2c0" stroke-opacity="0.45" stroke-width="0.91"/>
<path d="M262.1,425.1 Q240.8,481.5 226.4,540.0" stroke="#c4432f" stroke-opacity="0.40" stroke-width="0.93"/>
<path d="M263.4,427.4 Q242.8,482.6 229.0,540.0" stroke="#fcd2c0" stroke-opacity="0.45" stroke-width="1.00"/>
<path d="M264.3,428.8 Q244.1,483.4 230.6,540.0" stroke="#c4432f" stroke-opacity="0.40" stroke-width="1.00"/>
</g></g>
<g clip-path="url(#cArm)"><path d="M218,404 C212,414 202,430 193,451 C187,470 182,495 178,520 L176,540 L202,540 C205,500 214,460 228,414 Z" fill="#c94a35" opacity="0.5" filter="url(#blur1)"/></g>
<g clip-path="url(#cArm)"><path d="M240,470 C250,440 258,425 264,420 C262,445 258,470 252,490 C245,510 238,525 230,540 L220,540 C228,520 234,495 240,470 Z" fill="#c4432f" opacity="0.45" filter="url(#blur1)"/></g>
<path d="M226,430 C220,460 214,495 210,535" stroke="#b03b28" stroke-width="1" fill="none" opacity="0.4" filter="url(#blur06)"/>
<path d="M228,412 C236,409 244,409 252,411 C250,420 245,430 238,440 C234,446 231,450 228,453 C226,440 226,425 228,412 Z" fill="#f1ddd6" opacity="0.85" filter="url(#blur06)"/>
<path d="M230,414 L246,411 M229,424 L247,414 M229,434 L246,420 M229,444 L242,428" stroke="#ffffff" stroke-width="0.8" opacity="0.6" fill="none"/>
<path d="M228,453 C236,444 244,432 252,411 C255,425 256,440 254,455 C248,470 243,480 238,490 C232,480 228,468 228,453 Z" fill="#e9a493" opacity="0.55"/>
<path d="M253,413 C260,417 264,424 262,437 L258,444 C256,432 255,420 253,413 Z" fill="#f0d0c6" opacity="0.9"/>
<path d="M226,470 C230,480 234,488 238,492 C235,505 232,515 229,522 C227,505 226,490 226,470 Z" fill="#e59c88" opacity="0.4"/>
<rect x="150" y="514" width="260" height="19" fill="url(#fadeB)"/>
<rect x="150" y="532.5" width="260" height="10" fill="#fff"/>
<rect x="150" y="118" width="260" height="7" fill="#fff"/>
<rect x="150" y="124" width="260" height="14" fill="url(#fadeT)"/></g>
<g clip-path="url(#clipR)"><defs>
  <linearGradient id="boneG" x1="0" y1="0" x2="1" y2="1">
    <stop offset="0" stop-color="#f4ebd4"/>
    <stop offset="0.5" stop-color="#ebdcb8"/>
    <stop offset="1" stop-color="#d9c398"/>
  </linearGradient>
  <linearGradient id="ribGap" x1="0" y1="0" x2="0" y2="1">
    <stop offset="0" stop-color="#b9b7ca"/>
    <stop offset="1" stop-color="#d6d5e3"/>
  </linearGradient>
</defs>
  <!-- blue silhouette -->
  <path d="M760,124 C745,128 725,135 698,145 C680,151 665,157 653,163 C642,169 634,175 628,181 C620,188 615,195 611,202 C607,209 605,216 603,223 C600,235 597,248 596,260 C594,275 592,288 591,301 C589,315 588,330 588,342 C586,370 584,395 580,418 C572,440 560,470 552,505 L546,540 L774.5,540 L774.5,124 Z" fill="#dde3ef"/>
  <!-- white gap between arm and torso -->
  <path d="M655,318 C660,340 665,380 669,408 C664,440 656,490 651,540 L606,540 C610,500 617,455 621,440 C630,412 645,385 652,350 Z" fill="#ffffff"/>
  <!-- spine -->
  <path d="M748,124 L774.5,124 L774.5,335 L756,335 C756,300 756,260 756,220 C756,195 748,175 746,150 C745,140 746,130 748,124 Z" fill="#ece0bf"/>
  <g fill="#f2e8cf">
    <path d="M748,130 C754,127 764,127 772,130 L774,140 C764,142 754,142 747,140 Z"/>
    <path d="M746,147 C752,144 764,144 772,147 L774,158 C764,160 752,160 745,158 Z"/>
  </g>
  
  <g stroke="#7d6440" stroke-width="1.3" fill="none" opacity="0.75">
    <path d="M756,143 C762,145 768,145 774.5,144"/>
    <path d="M754,161 C760,163 766,165 774.5,164"/>
    <path d="M760,177 C764,179 768,181 774.5,180"/>
    <path d="M762,197 C766,199 770,201 774.5,200"/>
    <path d="M764,219 C767,221 770,223 774.5,222"/>
    <path d="M766,241 C769,243 771,245 774.5,244"/>
    <path d="M767,263 C770,265 772,267 774.5,266"/>
    <path d="M767,285 C770,287 772,289 774.5,288"/>
    <path d="M767,306 C770,308 772,310 774.5,309"/>
  </g>
  <!-- ribs background -->
  <path d="M716,182 L762,182 L766,330 L718,330 Z" fill="url(#ribGap)"/>
  <g fill="#cdccda">
    <rect x="718" y="190" width="44" height="10"/>
    <rect x="718" y="213" width="46" height="10"/>
    <rect x="718" y="235" width="46" height="10"/>
    <rect x="718" y="257" width="48" height="10"/>
    <rect x="718" y="279" width="48" height="10"/>
    <rect x="718" y="301" width="48" height="8"/>
  </g>
  <g fill="#eee2c0">
    <path d="M716,178 C730,178 745,178 758,181 L760,191 C745,190 730,190 716,191 Z"/>
    <path d="M720,200 C735,200 748,201 762,204 L762,213 C748,212 735,212 720,213 Z"/>
    <path d="M720,222 C735,222 748,223 764,226 L764,235 C748,234 735,234 720,235 Z"/>
    <path d="M722,244 C737,244 750,245 766,248 L766,257 C750,256 737,256 722,257 Z"/>
    <path d="M722,266 C737,266 750,267 766,270 L766,279 C750,278 737,278 722,279 Z"/>
    <path d="M722,288 C737,288 750,289 766,292 L766,301 C750,300 737,300 722,301 Z"/>
    <path d="M722,308 C737,308 750,309 766,312 L766,321 C750,320 737,320 722,321 Z"/>
  </g>
  <g fill="#d4bd8c" opacity="0.7">
    <rect x="722" y="210" width="40" height="2"/>
    <rect x="722" y="232" width="42" height="2"/>
    <rect x="722" y="254" width="44" height="2"/>
    <rect x="722" y="276" width="44" height="2"/>
    <rect x="722" y="298" width="44" height="2"/>
  </g>
  <g fill="#ebdcb4">
    <ellipse cx="752" cy="168" rx="8" ry="6"/>
    <ellipse cx="754" cy="186" rx="9" ry="6"/>
    <ellipse cx="756" cy="208" rx="9" ry="6"/>
    <ellipse cx="758" cy="230" rx="9" ry="6"/>
    <ellipse cx="760" cy="252" rx="9" ry="6"/>
    <ellipse cx="761" cy="274" rx="9" ry="6"/>
    <ellipse cx="761" cy="296" rx="9" ry="6"/>
    <ellipse cx="761" cy="316" rx="9" ry="6"/>
  </g>
  <!-- scapula body -->
  <path d="M652,205 C670,200 692,196 712,186 L719,179 C722,200 722,240 723,265 C724,285 726,300 728,313 C720,313 712,311 703,306 C696,302 692,299 688,294 C682,285 678,276 674,267 C670,255 667,243 664,232 C660,222 656,212 652,205 Z" fill="url(#boneG)"/>
  <path d="M688,225 C703,245 713,275 721,305 C707,292 696,262 688,225 Z" fill="#f5ecd2" opacity="0.8"/>
  <path d="M674,267 C678,276 682,285 688,294 C692,299 696,302 703,306 C695,306 686,300 680,292 C675,284 672,276 674,267 Z" fill="#cfae78"/>
  <path d="M664,232 C668,245 672,258 676,270" stroke="#c9a66f" stroke-width="1.5" fill="none" opacity="0.7"/>
  <path d="M719,180 C722,220 724,270 728,313" stroke="#f6eedb" stroke-width="2" fill="none" opacity="0.8"/>
  <!-- supraspinous region -->
  <path d="M649,189 C665,188 690,186 706,182 C712,180 716,178 719,178 L720,214 C705,210 690,205 672,201 C660,199 650,198 640,197 Z" fill="#e6d4a6"/>
  <path d="M658,189 L668,189 L676,197 C670,197 664,196 658,195 Z" fill="#dde3ef"/>
  <path d="M690,198 C700,192 710,186 719,182 L720,208 C708,204 698,201 690,198 Z" fill="#d8c08f" opacity="0.8"/>
  <!-- scapular spine ridge -->
  <path d="M624,198 C645,196 665,197 682,201 C697,205 710,210 720,214 L721,223 C706,219 690,214 672,210 C655,208 640,206 630,205 Z" fill="#c9ab74"/>
  <path d="M640,197 C665,197 695,204 720,213" stroke="#f4e9cb" stroke-width="2" fill="none"/>
  <!-- clavicle -->
  <path d="M646,177 C655,175 663,174 669,174 C678,176 684,179 689,179 C696,178 702,176 708,174 C716,171 722,168 728,167 C733,165 737,164 742,164 L744,176 C735,176 728,177 718,179 C711,182 706,184 701,184 C693,186 687,187 681,187 C670,188 658,189 649,189 Z" fill="#eadabb"/>
  <path d="M652,178 C665,177 680,180 690,181 C705,180 718,172 740,166" stroke="#f6eedb" stroke-width="1.8" fill="none"/>
  <path d="M652,188 C670,187 690,186 702,183 C712,181 725,177 744,175" stroke="#bf9f66" stroke-width="1" fill="none" opacity="0.7"/>
  <!-- acromion -->
  <path d="M624,200 C622,192 626,184 633,179 C639,176 645,176 650,177 C655,185 663,192 676,197 C672,200 664,202 655,203 C644,204 633,203 624,200 Z" fill="#ebdab0"/>
  <path d="M630,186 C637,180 645,179 650,180" stroke="#f7efd9" stroke-width="2.2" fill="none"/>
  <path d="M626,199 C640,202 660,202 674,198" stroke="#c4a26a" stroke-width="1" fill="none" opacity="0.6"/>
  <!-- glenoid neck -->
  <path d="M628,214 C636,214 646,216 652,222 C650,232 646,240 640,246 C636,244 632,236 630,228 Z" fill="#e9dcae"/>
  <!-- humerus -->
  <path d="M617,210 C616,202 620,198 625,198 C631,199 634,205 634,213 C634,230 633,245 632,262 L619,262 C619,240 617,225 617,210 Z" fill="#e2cb98"/>
  <path d="M620,206 C622,216 622,240 621,260" stroke="#f1e5c2" stroke-width="2" fill="none"/>
  <path d="M632,212 C633,230 632,245 631,262" stroke="#c4a46e" stroke-width="1.2" fill="none" opacity="0.7"/>
  <!-- humeral head (dome) -->
  <defs><linearGradient id="hhead" x1="0" y1="0" x2="1" y2="1"><stop offset="0" stop-color="#f4f3f8"/><stop offset="0.5" stop-color="#c9c5d6"/><stop offset="1" stop-color="#8f889e"/></linearGradient></defs>
  <path d="M630,204 C636,201 645,201 651,205 C652,212 651,220 648,226 C642,224 636,220 632,214 C630,210 629,207 630,204 Z" fill="url(#hhead)"/>

<path d="M632,244 C640,262 650,280 657,295 C661,310 665,335 668,355 C672,380 677,405 682,420 C686,435 691,450 697,465 C702,480 707,495 711,505 C722,500 735,492 747,482 C760,470 770,440 774,413 L774.5,323 C755,320 742,319 731,316.6 C722,313 714,310 707,306 C698,301 691,297 684,292 C676,285 668,278 660,270 C651,262 642,253 632,244 Z" fill="url(#gLat)"/>
<path d="M634,245 C645,262 654,282 660,305 C664,325 667,345 670,365 C673,385 677,405 682,420 C686,435 691,450 697,465 C702,480 707,495 711,505 L724,497 C716,480 708,460 702,440 C695,415 690,385 686,355 C682,325 675,295 660,270 Z" fill="#b8382a" opacity="0.5" filter="url(#blur1)"/>
<g clip-path="url(#cLat)"><path d="M735,335 C752,362 762,392 770,425 L780,425 L780,330 Z" fill="#dc5a4a" opacity="0.35" filter="url(#blur1)"/></g>
<path d="M632,244 C642,253 651,262 660,270 C668,278 676,285 684,292 C691,297 698,301 707,306 C714,310 722,313 731,316.6 C742,319 755,320 774.5,323 L774.5,335 C740,332 715,326 695,316 C672,304 655,285 640,262 Z" fill="#cc4a35" opacity="0.25" filter="url(#blur06)"/>
<g clip-path="url(#cLat)"><g fill="none" stroke-linecap="round" filter="url(#fblur)" opacity="0.75">
<path d="M711.7,505.6 Q650.5,385.2 640.3,250.6" stroke="#fcd2c0" stroke-opacity="0.45" stroke-width="0.86"/>
<path d="M715.1,503.8 Q653.5,386.0 641.9,253.5" stroke="#c4432f" stroke-opacity="0.35" stroke-width="0.94"/>
<path d="M718.3,502.1 Q656.3,386.7 643.4,256.2" stroke="#fcd2c0" stroke-opacity="0.45" stroke-width="0.71"/>
<path d="M722.1,500.1 Q659.6,387.5 645.2,259.4" stroke="#c4432f" stroke-opacity="0.35" stroke-width="0.84"/>
<path d="M726.0,498.1 Q663.0,388.3 647.0,262.7" stroke="#fcd2c0" stroke-opacity="0.45" stroke-width="1.02"/>
<path d="M729.6,496.2 Q666.1,389.0 648.7,265.7" stroke="#c4432f" stroke-opacity="0.35" stroke-width="1.09"/>
<path d="M732.4,494.0 Q668.8,389.5 650.2,268.5" stroke="#fcd2c0" stroke-opacity="0.45" stroke-width="1.23"/>
<path d="M734.8,492.1 Q670.7,389.9 651.0,270.9" stroke="#c4432f" stroke-opacity="0.35" stroke-width="0.90"/>
<path d="M738.6,488.9 Q674.1,390.6 652.3,275.0" stroke="#fcd2c0" stroke-opacity="0.45" stroke-width="0.79"/>
<path d="M741.1,486.9 Q676.2,391.0 653.2,277.5" stroke="#c4432f" stroke-opacity="0.35" stroke-width="1.09"/>
<path d="M742.8,485.5 Q677.7,391.3 653.8,279.3" stroke="#fcd2c0" stroke-opacity="0.45" stroke-width="1.20"/>
<path d="M747.1,481.9 Q681.4,392.1 655.3,283.9" stroke="#c4432f" stroke-opacity="0.35" stroke-width="1.08"/>
<path d="M749.2,479.3 Q683.4,392.2 656.2,286.6" stroke="#fcd2c0" stroke-opacity="0.45" stroke-width="1.19"/>
<path d="M750.7,477.4 Q684.9,392.4 656.8,288.5" stroke="#c4432f" stroke-opacity="0.35" stroke-width="1.01"/>
<path d="M753.6,473.9 Q687.6,392.6 658.1,292.2" stroke="#fcd2c0" stroke-opacity="0.45" stroke-width="1.20"/>
<path d="M756.3,470.5 Q690.2,392.9 659.1,295.8" stroke="#c4432f" stroke-opacity="0.35" stroke-width="1.20"/>
<path d="M758.4,468.0 Q692.1,393.1 659.8,298.5" stroke="#fcd2c0" stroke-opacity="0.45" stroke-width="1.24"/>
<path d="M760.5,464.7 Q694.3,393.2 660.7,301.7" stroke="#c4432f" stroke-opacity="0.35" stroke-width="1.12"/>
<path d="M761.4,462.2 Q695.6,393.1 661.3,304.0" stroke="#fcd2c0" stroke-opacity="0.45" stroke-width="0.72"/>
<path d="M762.7,458.9 Q697.2,393.0 662.1,306.9" stroke="#c4432f" stroke-opacity="0.35" stroke-width="0.92"/>
<path d="M764.0,455.5 Q698.9,392.8 663.0,309.9" stroke="#fcd2c0" stroke-opacity="0.45" stroke-width="1.20"/>
<path d="M765.7,451.1 Q702.2,390.7 666.9,310.6" stroke="#c4432f" stroke-opacity="0.35" stroke-width="1.08"/>
<path d="M767.1,447.5 Q705.0,389.0 670.1,311.1" stroke="#fcd2c0" stroke-opacity="0.45" stroke-width="1.11"/>
<path d="M768.1,444.3 Q707.3,387.4 673.0,311.5" stroke="#c4432f" stroke-opacity="0.35" stroke-width="0.70"/>
<path d="M768.9,439.9 Q710.1,385.2 676.8,312.0" stroke="#fcd2c0" stroke-opacity="0.45" stroke-width="1.15"/>
<path d="M769.5,436.9 Q712.0,383.5 679.4,312.0" stroke="#c4432f" stroke-opacity="0.35" stroke-width="1.02"/>
<path d="M770.3,432.9 Q714.5,381.2 682.9,312.0" stroke="#fcd2c0" stroke-opacity="0.45" stroke-width="0.74"/>
<path d="M771.0,429.1 Q716.9,379.0 686.2,312.0" stroke="#c4432f" stroke-opacity="0.35" stroke-width="0.85"/>
<path d="M771.4,426.9 Q718.3,377.8 688.1,312.0" stroke="#fcd2c0" stroke-opacity="0.45" stroke-width="0.86"/>
<path d="M772.3,421.8 Q721.5,375.3 692.4,312.7" stroke="#c4432f" stroke-opacity="0.35" stroke-width="0.82"/>
<path d="M773.0,418.1 Q723.8,373.7 695.5,313.6" stroke="#fcd2c0" stroke-opacity="0.45" stroke-width="1.29"/>
<path d="M773.6,415.0 Q725.8,372.3 698.1,314.4" stroke="#c4432f" stroke-opacity="0.35" stroke-width="0.93"/>
<path d="M774.0,411.4 Q728.0,370.7 701.1,315.3" stroke="#fcd2c0" stroke-opacity="0.45" stroke-width="1.11"/>
<path d="M774.2,407.0 Q730.4,368.7 704.7,316.4" stroke="#c4432f" stroke-opacity="0.35" stroke-width="1.07"/>
<path d="M774.3,403.6 Q732.3,367.1 707.5,317.2" stroke="#fcd2c0" stroke-opacity="0.45" stroke-width="0.75"/>
<path d="M774.4,401.0 Q733.7,365.9 709.6,317.9" stroke="#c4432f" stroke-opacity="0.35" stroke-width="0.85"/>
<path d="M774.5,395.9 Q736.5,363.3 713.9,318.5" stroke="#fcd2c0" stroke-opacity="0.45" stroke-width="0.88"/>
<path d="M774.6,392.6 Q738.3,361.5 716.7,318.9" stroke="#c4432f" stroke-opacity="0.35" stroke-width="0.71"/>
<path d="M774.7,390.0 Q739.7,360.2 718.9,319.2" stroke="#fcd2c0" stroke-opacity="0.45" stroke-width="0.86"/>
<path d="M774.9,384.9 Q742.5,357.5 723.2,319.8" stroke="#c4432f" stroke-opacity="0.35" stroke-width="1.12"/>
<path d="M775.0,381.2 Q744.6,355.6 726.4,320.2" stroke="#fcd2c0" stroke-opacity="0.45" stroke-width="0.87"/>
<path d="M775.0,377.9 Q746.4,353.8 729.2,320.6" stroke="#c4432f" stroke-opacity="0.35" stroke-width="0.98"/>
<path d="M775.0,374.3 Q748.3,351.9 732.3,321.0" stroke="#fcd2c0" stroke-opacity="0.45" stroke-width="0.77"/>
<path d="M775.0,369.6 Q750.8,349.4 736.3,321.5" stroke="#c4432f" stroke-opacity="0.35" stroke-width="0.82"/>
<path d="M775.0,365.7 Q752.9,347.4 739.6,321.9" stroke="#fcd2c0" stroke-opacity="0.45" stroke-width="1.26"/>
<path d="M775.0,364.1 Q753.8,346.5 740.9,322.1" stroke="#c4432f" stroke-opacity="0.35" stroke-width="0.98"/>
<path d="M775.0,358.6 Q756.7,343.6 745.6,322.6" stroke="#fcd2c0" stroke-opacity="0.45" stroke-width="1.28"/>
<path d="M775.0,355.7 Q758.2,342.0 748.0,322.9" stroke="#c4432f" stroke-opacity="0.35" stroke-width="0.86"/>
<path d="M775.0,352.5 Q759.9,340.3 750.8,323.2" stroke="#fcd2c0" stroke-opacity="0.45" stroke-width="1.27"/>
<path d="M775.0,348.8 Q761.9,338.3 753.9,323.6" stroke="#c4432f" stroke-opacity="0.35" stroke-width="1.05"/>
<path d="M775.0,345.2 Q763.8,336.4 756.9,323.9" stroke="#fcd2c0" stroke-opacity="0.45" stroke-width="1.01"/>
<path d="M775.0,339.7 Q766.8,333.4 761.6,324.5" stroke="#c4432f" stroke-opacity="0.35" stroke-width="0.78"/>
<path d="M775.0,336.3 Q768.6,331.6 764.5,324.8" stroke="#fcd2c0" stroke-opacity="0.45" stroke-width="1.01"/>
<path d="M775.0,332.4 Q770.7,329.5 767.8,325.2" stroke="#c4432f" stroke-opacity="0.35" stroke-width="1.12"/>
<path d="M775.0,330.2 Q771.9,328.3 769.8,325.4" stroke="#fcd2c0" stroke-opacity="0.45" stroke-width="1.24"/>
<path d="M775.0,325.9 Q774.2,326.0 773.4,325.8" stroke="#c4432f" stroke-opacity="0.35" stroke-width="0.71"/>
</g></g>
<path d="M711,505 C722,500 735,492 747,482 C760,470 770,440 774,413 L774.5,540 L705,540 Z" fill="#f8f2f2"/>
<g clip-path="url(#cFascia)" filter="url(#fblur)"><g stroke="#eab8ae" stroke-width="0.9" opacity="0.4"><path d="M711.0,505.0 L733.0,545.0"/><path d="M714.0,500.6 L735.2,540.6"/><path d="M717.0,496.2 L737.4,536.2"/><path d="M720.0,491.8 L739.6,531.8"/><path d="M723.0,487.4 L741.8,527.4"/><path d="M726.0,483.0 L744.0,523.0"/><path d="M729.0,478.6 L746.2,518.6"/><path d="M732.0,474.2 L748.4,514.2"/><path d="M735.0,469.8 L750.6,509.8"/><path d="M738.0,465.4 L752.8,505.4"/><path d="M741.0,461.0 L755.0,501.0"/><path d="M744.0,456.6 L757.2,496.6"/><path d="M747.0,452.2 L759.4,492.2"/><path d="M750.0,447.8 L761.6,487.8"/><path d="M753.0,443.4 L763.8,483.4"/><path d="M756.0,439.0 L766.0,479.0"/><path d="M759.0,434.6 L768.2,474.6"/><path d="M762.0,430.2 L770.4,470.2"/><path d="M765.0,425.8 L772.6,465.8"/><path d="M768.0,421.4 L774.8,461.4"/><path d="M771.0,417.0 L777.0,457.0"/><path d="M774.0,412.6 L779.2,452.6"/></g></g>
<path d="M664,540 C666,525 671,513 678,510 C686,505 696,503 706,504 C712,507 715,520 716,540 Z" fill="#d3bb8e"/>
<path d="M672,525 C676,515 686,509 700,508 C692,515 684,522 678,535 Z" fill="#e6d5b0" opacity="0.6" filter="url(#blur1)"/>
<path d="M711,506 C722,500 735,492 747,482 C760,470 770,440 774.5,413" stroke="#fbeeee" stroke-width="5" fill="none" opacity="0.7" filter="url(#blur12)"/>
<path d="M619,252 C616,275 610,295 604,315 C598,330 593,345 589,365 C585,385 582,402 583,418 C586,424 600,432 619,432 C626,418 636,400 642,378 C648,360 651,345 652,325 C654,305 655,285 654,268 L645,262 L632,262 Z" fill="#dae1ee" stroke="#dae1ee" stroke-width="2.6"/>
<path d="M583,418 C578,428 574,438 570,450 C563,470 556,495 551,519 L548,540 L604,540 C607,510 610,480 615,451 C617,440 618,435 619,432 Z" fill="#dae1ee" stroke="#dae1ee" stroke-width="2.6"/>
<path d="M619,252 C616,275 610,295 604,315 C598,330 593,345 589,365 C585,385 582,402 583,418 C586,424 600,432 619,432 C626,418 636,400 642,378 C648,360 651,345 652,325 C654,305 655,285 654,268 L645,262 L632,262 Z" fill="url(#gUArm)"/>
<g clip-path="url(#cUArm)"><g fill="none" stroke-linecap="round" filter="url(#fblur)" opacity="0.75">
<path d="M618.2,250.2 Q595.7,333.1 583.2,418.2" stroke="#fcd2c0" stroke-opacity="0.40" stroke-width="0.70"/>
<path d="M619.5,251.1 Q597.1,334.1 584.7,419.2" stroke="#c4432f" stroke-opacity="0.30" stroke-width="0.62"/>
<path d="M620.3,251.7 Q598.0,334.7 585.7,419.8" stroke="#fcd2c0" stroke-opacity="0.40" stroke-width="0.63"/>
<path d="M621.4,252.6 Q599.2,335.6 587.0,420.7" stroke="#c4432f" stroke-opacity="0.30" stroke-width="0.84"/>
<path d="M622.2,253.2 Q600.1,336.2 588.0,421.3" stroke="#fcd2c0" stroke-opacity="0.40" stroke-width="0.81"/>
<path d="M623.7,254.3 Q601.7,337.4 589.8,422.5" stroke="#c4432f" stroke-opacity="0.30" stroke-width="0.54"/>
<path d="M624.8,255.1 Q602.9,338.2 591.0,423.4" stroke="#fcd2c0" stroke-opacity="0.40" stroke-width="0.79"/>
<path d="M625.8,255.8 Q603.9,339.0 592.2,424.1" stroke="#c4432f" stroke-opacity="0.30" stroke-width="0.61"/>
<path d="M626.5,256.3 Q604.7,339.5 593.0,424.7" stroke="#fcd2c0" stroke-opacity="0.40" stroke-width="0.66"/>
<path d="M627.8,257.4 Q606.2,340.6 594.6,425.8" stroke="#c4432f" stroke-opacity="0.30" stroke-width="0.74"/>
<path d="M628.5,257.8 Q606.9,341.0 595.4,426.2" stroke="#fcd2c0" stroke-opacity="0.40" stroke-width="0.67"/>
<path d="M629.4,258.6 Q608.0,341.6 596.7,426.7" stroke="#c4432f" stroke-opacity="0.30" stroke-width="0.51"/>
<path d="M630.3,259.2 Q609.0,342.2 597.9,427.1" stroke="#fcd2c0" stroke-opacity="0.40" stroke-width="0.84"/>
<path d="M631.4,260.1 Q610.4,342.9 599.3,427.7" stroke="#c4432f" stroke-opacity="0.30" stroke-width="0.88"/>
<path d="M632.4,260.8 Q611.5,343.6 600.6,428.3" stroke="#fcd2c0" stroke-opacity="0.40" stroke-width="0.60"/>
<path d="M633.6,261.7 Q612.9,344.3 602.2,428.9" stroke="#c4432f" stroke-opacity="0.30" stroke-width="0.57"/>
<path d="M634.6,262.0 Q614.0,344.7 603.4,429.4" stroke="#fcd2c0" stroke-opacity="0.40" stroke-width="0.89"/>
<path d="M636.2,262.0 Q615.6,345.1 605.1,430.0" stroke="#c4432f" stroke-opacity="0.30" stroke-width="0.83"/>
<path d="M637.3,262.0 Q616.8,345.2 606.3,430.2" stroke="#fcd2c0" stroke-opacity="0.40" stroke-width="0.87"/>
<path d="M638.8,262.0 Q618.3,345.3 608.0,430.4" stroke="#c4432f" stroke-opacity="0.30" stroke-width="0.72"/>
<path d="M639.9,262.0 Q619.5,345.4 609.2,430.6" stroke="#fcd2c0" stroke-opacity="0.40" stroke-width="0.51"/>
<path d="M641.2,262.0 Q620.8,345.5 610.7,430.8" stroke="#c4432f" stroke-opacity="0.30" stroke-width="0.68"/>
<path d="M642.4,262.0 Q622.2,345.6 612.1,431.0" stroke="#fcd2c0" stroke-opacity="0.40" stroke-width="0.76"/>
<path d="M643.3,262.0 Q623.1,345.7 613.1,431.2" stroke="#c4432f" stroke-opacity="0.30" stroke-width="0.51"/>
<path d="M645.1,262.0 Q625.0,345.8 615.1,431.4" stroke="#fcd2c0" stroke-opacity="0.40" stroke-width="0.54"/>
<path d="M645.8,262.5 Q625.9,346.2 616.1,431.6" stroke="#c4432f" stroke-opacity="0.30" stroke-width="0.63"/>
<path d="M646.8,263.1 Q627.0,346.5 617.4,431.8" stroke="#fcd2c0" stroke-opacity="0.40" stroke-width="0.80"/>
<path d="M648.3,264.0 Q628.7,347.0 619.2,431.7" stroke="#c4432f" stroke-opacity="0.30" stroke-width="0.60"/>
<path d="M649.2,264.5 Q629.6,346.8 620.0,430.9" stroke="#fcd2c0" stroke-opacity="0.40" stroke-width="0.62"/>
<path d="M650.2,265.1 Q630.6,346.6 620.8,429.8" stroke="#c4432f" stroke-opacity="0.30" stroke-width="0.66"/>
<path d="M651.0,265.6 Q631.4,346.4 621.6,429.0" stroke="#fcd2c0" stroke-opacity="0.40" stroke-width="0.56"/>
<path d="M652.1,266.3 Q632.5,346.2 622.5,427.9" stroke="#c4432f" stroke-opacity="0.30" stroke-width="0.87"/>
<path d="M653.4,267.0 Q633.7,345.9 623.6,426.6" stroke="#fcd2c0" stroke-opacity="0.40" stroke-width="0.58"/>
<path d="M654.7,267.8 Q635.0,345.7 624.8,425.3" stroke="#c4432f" stroke-opacity="0.30" stroke-width="0.91"/>
</g></g>
<path d="M634,270 C632,300 626,330 618,355" stroke="#b8402c" stroke-width="1.2" opacity="0.5" fill="none"/>
<path d="M625,229 C629,229 632,232 633,236 L633,256 C631,258 628,260 624,262 C624,250 624,238 625,229 Z" fill="#dcd5e0"/>
<path d="M649,225 C655,226 664,232 666,240 C662,252 656,262 650,272 L641,272 C642,258 645,240 649,225 Z" fill="#dcd5e0"/>
<path d="M652,232 C650,245 647,258 645,270" stroke="#f4f2f7" stroke-width="2" fill="none"/>
<path d="M619,340 C624,338 627,343 626,352 C624,380 622,405 620,425 C614,434 606,441 596,441 C599,420 608,380 619,340 Z" fill="#f3eff0" filter="url(#blur1)"/>
<path d="M621,350 C620,380 616,405 608,430" stroke="#ffffff" stroke-width="3" fill="none" opacity="0.8" filter="url(#blur06)"/>
<path d="M583,418 C578,428 574,438 570,450 C563,470 556,495 551,519 L548,540 L604,540 C607,510 610,480 615,451 C617,440 618,435 619,432 Z" fill="url(#gFArm)"/>
<g clip-path="url(#cFArm)"><g fill="none" stroke-linecap="round" filter="url(#fblur)" opacity="0.75">
<path d="M583.5,418.5 Q563.7,478.5 548.9,540.0" stroke="#fcd2c0" stroke-opacity="0.35" stroke-width="0.55"/>
<path d="M584.3,419.3 Q564.9,479.0 550.5,540.0" stroke="#c4432f" stroke-opacity="0.30" stroke-width="0.53"/>
<path d="M585.3,420.3 Q566.5,479.5 552.5,540.0" stroke="#fcd2c0" stroke-opacity="0.35" stroke-width="0.53"/>
<path d="M586.2,421.2 Q567.9,480.0 554.2,540.0" stroke="#c4432f" stroke-opacity="0.30" stroke-width="0.60"/>
<path d="M587.4,422.4 Q569.6,480.6 556.5,540.0" stroke="#fcd2c0" stroke-opacity="0.35" stroke-width="0.86"/>
<path d="M588.5,423.5 Q571.2,481.1 558.5,540.0" stroke="#c4432f" stroke-opacity="0.30" stroke-width="0.66"/>
<path d="M589.2,424.2 Q572.3,481.5 560.0,540.0" stroke="#fcd2c0" stroke-opacity="0.35" stroke-width="0.71"/>
<path d="M590.2,425.2 Q573.7,482.0 561.9,540.0" stroke="#c4432f" stroke-opacity="0.30" stroke-width="0.63"/>
<path d="M591.0,426.0 Q574.9,482.4 563.4,540.0" stroke="#fcd2c0" stroke-opacity="0.35" stroke-width="0.61"/>
<path d="M592.5,427.5 Q577.1,483.2 566.3,540.0" stroke="#c4432f" stroke-opacity="0.30" stroke-width="0.54"/>
<path d="M593.2,428.2 Q578.1,483.6 567.6,540.0" stroke="#fcd2c0" stroke-opacity="0.35" stroke-width="0.75"/>
<path d="M594.3,429.3 Q579.9,484.2 569.9,540.0" stroke="#c4432f" stroke-opacity="0.30" stroke-width="0.58"/>
<path d="M595.0,430.0 Q580.8,484.5 571.1,540.0" stroke="#fcd2c0" stroke-opacity="0.35" stroke-width="0.59"/>
<path d="M596.4,430.1 Q582.6,484.6 573.1,540.0" stroke="#c4432f" stroke-opacity="0.30" stroke-width="0.68"/>
<path d="M598.2,430.3 Q584.7,484.7 575.6,540.0" stroke="#fcd2c0" stroke-opacity="0.35" stroke-width="0.85"/>
<path d="M599.5,430.4 Q586.2,484.7 577.4,540.0" stroke="#c4432f" stroke-opacity="0.30" stroke-width="0.50"/>
<path d="M600.2,430.4 Q587.1,484.8 578.3,540.0" stroke="#fcd2c0" stroke-opacity="0.35" stroke-width="0.79"/>
<path d="M602.3,430.6 Q589.5,484.9 581.1,540.0" stroke="#c4432f" stroke-opacity="0.30" stroke-width="0.69"/>
<path d="M603.4,430.7 Q590.8,484.9 582.6,540.0" stroke="#fcd2c0" stroke-opacity="0.35" stroke-width="0.49"/>
<path d="M604.6,430.8 Q592.3,485.0 584.3,540.0" stroke="#c4432f" stroke-opacity="0.30" stroke-width="0.88"/>
<path d="M606.3,430.9 Q594.3,485.1 586.6,540.0" stroke="#fcd2c0" stroke-opacity="0.35" stroke-width="0.85"/>
<path d="M607.8,431.1 Q596.0,485.2 588.7,540.0" stroke="#c4432f" stroke-opacity="0.30" stroke-width="0.59"/>
<path d="M608.5,431.1 Q596.8,485.2 589.6,540.0" stroke="#fcd2c0" stroke-opacity="0.35" stroke-width="0.55"/>
<path d="M610.2,431.3 Q598.8,485.3 591.9,540.0" stroke="#c4432f" stroke-opacity="0.30" stroke-width="0.78"/>
<path d="M611.9,431.4 Q600.9,485.3 594.2,540.0" stroke="#fcd2c0" stroke-opacity="0.35" stroke-width="0.79"/>
<path d="M613.0,431.5 Q602.2,485.4 595.8,540.0" stroke="#c4432f" stroke-opacity="0.30" stroke-width="0.81"/>
<path d="M614.2,431.6 Q603.6,485.5 597.4,540.0" stroke="#fcd2c0" stroke-opacity="0.35" stroke-width="0.72"/>
<path d="M615.2,431.7 Q604.8,485.5 598.8,540.0" stroke="#c4432f" stroke-opacity="0.30" stroke-width="0.82"/>
<path d="M616.7,431.8 Q606.7,485.6 600.9,540.0" stroke="#fcd2c0" stroke-opacity="0.35" stroke-width="0.88"/>
<path d="M618.4,432.0 Q608.7,485.7 603.2,540.0" stroke="#c4432f" stroke-opacity="0.30" stroke-width="0.62"/>
</g></g>
<path d="M573,440 C580,446 587,456 591,470 C585,473 577,470 572,460 Z" fill="#f1e2e0" opacity="0.7" filter="url(#blur1)"/>
<path d="M600,440 C597,455 593,470 590,485" stroke="#f2e8d4" stroke-width="2.6" fill="none" stroke-dasharray="1.5 1"/>
<path d="M598,436 C604,440 611,440 617,436 C616,446 612,456 606,462 C602,456 598,446 598,436 Z" fill="#f2e4e0" opacity="0.7" filter="url(#blur1)"/>
<g clip-path="url(#cFArm)"><path d="M578,420 C590,426 605,432 619,432" stroke="#e07a64" stroke-width="5" fill="none" opacity="0.8" filter="url(#blur1)"/></g>
<path d="M599,428 C606,432 613,433 619,430 C618,440 614,448 608,452 C603,446 600,438 599,428 Z" fill="#f4ecea" opacity="0.8" filter="url(#blur1)"/>
<ellipse cx="616" cy="434" rx="4" ry="7" fill="#e8d29c"/>
<rect x="520" y="514" width="260" height="19" fill="url(#fadeB)"/>
<rect x="520" y="532.5" width="260" height="10" fill="#fff"/>
<rect x="520" y="118" width="260" height="9" fill="#fff"/>
<rect x="520" y="126.5" width="260" height="16" fill="url(#fadeT)"/></g>
<line x1="182.5" y1="222.4" x2="243.2" y2="222.4" stroke="#1e1e1e" stroke-width="1.1"/><line x1="182.5" y1="250.5" x2="332" y2="250.5" stroke="#1e1e1e" stroke-width="1.1"/><line x1="182.5" y1="278.1" x2="402" y2="278.1" stroke="#1e1e1e" stroke-width="1.1"/><line x1="182.8" y1="347" x2="238.5" y2="347" stroke="#1e1e1e" stroke-width="1.1"/><line x1="182.8" y1="411.2" x2="255.5" y2="411.2" stroke="#1e1e1e" stroke-width="1.1"/><line x1="203.6" y1="411.2" x2="224.2" y2="431.2" stroke="#1e1e1e" stroke-width="1.1"/><line x1="182.8" y1="444.1" x2="205.9" y2="444.1" stroke="#1e1e1e" stroke-width="1.1"/><line x1="612.9" y1="147.8" x2="680" y2="182.1" stroke="#1e1e1e" stroke-width="1.1"/><line x1="538.6" y1="222.4" x2="630" y2="222.4" stroke="#1e1e1e" stroke-width="1.1"/><line x1="538.6" y1="260.1" x2="684.7" y2="260.1" stroke="#1e1e1e" stroke-width="1.1"/><line x1="485.9" y1="327.4" x2="497.8" y2="327.4" stroke="#1e1e1e" stroke-width="1.1"/><polyline points="506.6,298.3 497.8,298.3 497.8,358.4 506.6,358.4" fill="none" stroke="#1e1e1e" stroke-width="1.1"/><line x1="558.2" y1="318.4" x2="614.7" y2="318.4" stroke="#1e1e1e" stroke-width="1.1"/><line x1="558.2" y1="352.1" x2="635.6" y2="352.1" stroke="#1e1e1e" stroke-width="1.1"/><line x1="538.4" y1="430.8" x2="702" y2="430.8" stroke="#1e1e1e" stroke-width="1.1"/>
</svg>
<div class="t" style="left:552.3px;top:61.10px;font-size:11.1px;line-height:11.1px;font-weight:normal;font-style:normal;color:#8c8c8c;font-family:'Liberation Sans', sans-serif;">Chapter 6</div>
<div class="t" style="left:613.5px;top:61.15px;font-size:11.05px;line-height:11.05px;font-weight:normal;font-style:normal;color:#8c8c8c;font-family:'Liberation Sans', sans-serif;">The Muscular System</div>
<div class="t" style="left:755px;top:60.51px;font-size:11.8px;line-height:11.8px;font-weight:bold;font-style:normal;color:#7a7a7a;font-family:'Liberation Sans', sans-serif;">189</div>
<div class="t" style="left:252.1px;top:100.09px;font-size:12.3px;line-height:12.3px;font-weight:bold;font-style:normal;color:#231f20;font-family:'Liberation Sans', sans-serif;">Anterior view</div>
<div class="t" style="left:617.2px;top:100.20px;font-size:12.4px;line-height:12.4px;font-weight:bold;font-style:normal;color:#231f20;font-family:'Liberation Sans', sans-serif;">Posterior view</div>
<div class="t" style="left:88px;top:553.77px;font-size:11.97px;line-height:11.97px;font-weight:normal;font-style:normal;color:#2b2b2b;font-family:'Liberation Sans', sans-serif;white-space:nowrap;"><span style="color:#3b6a84;font-weight:bold;font-size:11.6px">Figure 6.19</span><span style="display:inline-block;width:12.9px"></span>Muscles of the upper limb. The medial head of the <i>triceps</i> shares the proximal tendon of the lateral head, so the</div>
<div class="t" style="left:88px;top:567.94px;font-size:12.0px;line-height:12.0px;font-weight:normal;font-style:normal;color:#2b2b2b;font-family:'Liberation Sans', sans-serif;white-space:nowrap;">muscle is concealed behind the lateral and long heads in this illustration.</div>
<div class="t" style="right:74px;text-align:right;top:543.04px;font-size:7.8px;line-height:7.8px;font-weight:normal;font-style:italic;color:#333;font-family:'Liberation Serif', serif;white-space:nowrap;">© Body Scientific International</div>
<div style="position:absolute;left:87px;top:611px;width:688px;height:29px;background:#385b6c;border-radius:2px 2px 0 0;"></div>
<div style="position:absolute;left:88px;top:611px;width:686px;height:1px;background:#2d5061;"></div>
<div style="position:absolute;left:87px;top:639px;width:688px;height:1px;background:#2f5265;"></div>
<div class="t" style="left:131px;width:600px;text-align:center;top:618.29px;font-size:17.5px;line-height:17.5px;font-weight:bold;font-style:normal;color:#f3e86c;font-family:'Liberation Sans', sans-serif;">Muscles of the Upper Limb</div>
<div style="position:absolute;left:87px;top:640px;width:688px;height:19px;background:#a2c2bd;"></div>
<div class="t" style="left:131px;width:600px;text-align:center;top:643.00px;font-size:13px;line-height:13px;font-weight:bold;font-style:normal;color:#231f20;font-family:'Liberation Sans', sans-serif;">Shoulder Muscles</div>
<div style="position:absolute;left:87px;top:659px;width:688px;height:19px;background:#d6e6e4;"></div>
<div class="t" style="left:92.5px;top:662.70px;font-size:13px;line-height:13px;font-weight:bold;font-style:normal;color:#231f20;font-family:'Liberation Sans', sans-serif;">Muscle</div>
<div class="t" style="left:222.5px;top:662.70px;font-size:13px;line-height:13px;font-weight:bold;font-style:normal;color:#231f20;font-family:'Liberation Sans', sans-serif;">Origin</div>
<div class="t" style="left:403.5px;top:662.70px;font-size:13px;line-height:13px;font-weight:bold;font-style:normal;color:#231f20;font-family:'Liberation Sans', sans-serif;">Insertion</div>
<div class="t" style="left:587.5px;top:662.70px;font-size:13px;line-height:13px;font-weight:bold;font-style:normal;color:#231f20;font-family:'Liberation Sans', sans-serif;">Primary Functions</div>
<div class="t" style="left:92.5px;top:682.16px;font-size:12.1px;line-height:12.1px;font-weight:bold;font-style:italic;color:#231f20;font-family:'Liberation Sans', sans-serif;">Pectoralis major</div>
<div class="t" style="left:221.8px;top:681.40px;font-size:13px;line-height:13px;font-weight:normal;font-style:normal;color:#2b2b2b;font-family:'Liberation Sans', sans-serif;white-space:nowrap;">sternum, clavicle, and</div>
<div class="t" style="left:221.8px;top:696.50px;font-size:13px;line-height:13px;font-weight:normal;font-style:normal;color:#2b2b2b;font-family:'Liberation Sans', sans-serif;white-space:nowrap;">ribs 1–7</div>
<div class="t" style="left:402.8px;top:681.40px;font-size:13px;line-height:13px;font-weight:normal;font-style:normal;color:#2b2b2b;font-family:'Liberation Sans', sans-serif;white-space:nowrap;">proximal humerus</div>
<div class="t" style="left:586.8px;top:681.40px;font-size:13px;line-height:13px;font-weight:normal;font-style:normal;color:#2b2b2b;font-family:'Liberation Sans', sans-serif;white-space:nowrap;">adduction and flexion of arm</div>
<div class="t" style="left:92.5px;top:716.16px;font-size:12.1px;line-height:12.1px;font-weight:bold;font-style:italic;color:#231f20;font-family:'Liberation Sans', sans-serif;">Deltoid</div>
<div class="t" style="left:221.8px;top:715.40px;font-size:13px;line-height:13px;font-weight:normal;font-style:normal;color:#2b2b2b;font-family:'Liberation Sans', sans-serif;white-space:nowrap;">scapular spine, acromion,</div>
<div class="t" style="left:221.8px;top:730.50px;font-size:13px;line-height:13px;font-weight:normal;font-style:normal;color:#2b2b2b;font-family:'Liberation Sans', sans-serif;white-space:nowrap;">and clavicle</div>
<div class="t" style="left:402.8px;top:715.40px;font-size:13px;line-height:13px;font-weight:normal;font-style:normal;color:#2b2b2b;font-family:'Liberation Sans', sans-serif;white-space:nowrap;">deltoid tuberosity of humerus</div>
<div class="t" style="left:586.8px;top:715.40px;font-size:13px;line-height:13px;font-weight:normal;font-style:normal;color:#2b2b2b;font-family:'Liberation Sans', sans-serif;white-space:nowrap;">prime mover for abduction;</div>
<div class="t" style="left:586.8px;top:730.50px;font-size:13px;line-height:13px;font-weight:normal;font-style:normal;color:#2b2b2b;font-family:'Liberation Sans', sans-serif;white-space:nowrap;">assists with flexion, extension,</div>
<div class="t" style="left:586.8px;top:745.60px;font-size:13px;line-height:13px;font-weight:normal;font-style:normal;color:#2b2b2b;font-family:'Liberation Sans', sans-serif;white-space:nowrap;">and rotation of arm</div>
<div class="t" style="left:92.5px;top:765.16px;font-size:12.1px;line-height:12.1px;font-weight:bold;font-style:italic;color:#231f20;font-family:'Liberation Sans', sans-serif;">Latissimus dorsi</div>
<div class="t" style="left:221.8px;top:764.40px;font-size:13px;line-height:13px;font-weight:normal;font-style:normal;color:#2b2b2b;font-family:'Liberation Sans', sans-serif;white-space:nowrap;">lower 6 thoracic and all</div>
<div class="t" style="left:221.8px;top:779.50px;font-size:13px;line-height:13px;font-weight:normal;font-style:normal;color:#2b2b2b;font-family:'Liberation Sans', sans-serif;white-space:nowrap;">lumbar vertebrae, ribs 10–12,</div>
<div class="t" style="left:221.8px;top:794.60px;font-size:13px;line-height:13px;font-weight:normal;font-style:normal;color:#2b2b2b;font-family:'Liberation Sans', sans-serif;white-space:nowrap;">sacrum, and iliac crest</div>
<div class="t" style="left:402.8px;top:764.40px;font-size:13px;line-height:13px;font-weight:normal;font-style:normal;color:#2b2b2b;font-family:'Liberation Sans', sans-serif;white-space:nowrap;">anterior humerus</div>
<div class="t" style="left:586.8px;top:764.40px;font-size:13px;line-height:13px;font-weight:normal;font-style:normal;color:#2b2b2b;font-family:'Liberation Sans', sans-serif;white-space:nowrap;">extension, adduction, and</div>
<div class="t" style="left:586.8px;top:779.50px;font-size:13px;line-height:13px;font-weight:normal;font-style:normal;color:#2b2b2b;font-family:'Liberation Sans', sans-serif;white-space:nowrap;">medial rotation of arm</div>
<div style="position:absolute;left:87px;top:659px;width:688px;height:1px;background:#2f5669;"></div>
<div style="position:absolute;left:87px;top:678px;width:688px;height:1px;background:#2f5669;"></div>
<div style="position:absolute;left:87px;top:712px;width:688px;height:1px;background:#2f5669;"></div>
<div style="position:absolute;left:87px;top:761px;width:688px;height:1px;background:#2f5669;"></div>
<div style="position:absolute;left:87px;top:811px;width:688px;height:1px;background:#2f5669;"></div>
<div style="position:absolute;left:217px;top:659px;width:1px;height:152px;background:#2f5669;"></div>
<div style="position:absolute;left:398px;top:659px;width:1px;height:152px;background:#2f5669;"></div>
<div style="position:absolute;left:582px;top:659px;width:1px;height:152px;background:#2f5669;"></div>
<div style="position:absolute;left:87px;top:812px;width:688px;height:18px;background:#a2c2bd;"></div>
<div class="t" style="left:131px;width:600px;text-align:center;top:814.00px;font-size:13px;line-height:13px;font-weight:bold;font-style:normal;color:#231f20;font-family:'Liberation Sans', sans-serif;">Elbow Muscles</div>
<div style="position:absolute;left:87px;top:830px;width:688px;height:19px;background:#d6e6e4;"></div>
<div class="t" style="left:92.5px;top:833.70px;font-size:13px;line-height:13px;font-weight:bold;font-style:normal;color:#231f20;font-family:'Liberation Sans', sans-serif;">Muscle</div>
<div class="t" style="left:222.5px;top:833.70px;font-size:13px;line-height:13px;font-weight:bold;font-style:normal;color:#231f20;font-family:'Liberation Sans', sans-serif;">Origin</div>
<div class="t" style="left:403.5px;top:833.70px;font-size:13px;line-height:13px;font-weight:bold;font-style:normal;color:#231f20;font-family:'Liberation Sans', sans-serif;">Insertion</div>
<div class="t" style="left:587.5px;top:833.70px;font-size:13px;line-height:13px;font-weight:bold;font-style:normal;color:#231f20;font-family:'Liberation Sans', sans-serif;">Primary Functions</div>
<div class="t" style="left:92.5px;top:853.16px;font-size:12.1px;line-height:12.1px;font-weight:bold;font-style:italic;color:#231f20;font-family:'Liberation Sans', sans-serif;">Biceps brachii</div>
<div class="t" style="left:221.8px;top:852.40px;font-size:13px;line-height:13px;font-weight:normal;font-style:normal;color:#2b2b2b;font-family:'Liberation Sans', sans-serif;white-space:nowrap;">superior glenoid fossa and</div>
<div class="t" style="left:221.8px;top:867.50px;font-size:13px;line-height:13px;font-weight:normal;font-style:normal;color:#2b2b2b;font-family:'Liberation Sans', sans-serif;white-space:nowrap;">coracoid process</div>
<div class="t" style="left:402.8px;top:852.40px;font-size:13px;line-height:13px;font-weight:normal;font-style:normal;color:#2b2b2b;font-family:'Liberation Sans', sans-serif;white-space:nowrap;">radial tuberosity</div>
<div class="t" style="left:586.8px;top:852.40px;font-size:13px;line-height:13px;font-weight:normal;font-style:normal;color:#2b2b2b;font-family:'Liberation Sans', sans-serif;white-space:nowrap;">assists with flexion and</div>
<div class="t" style="left:586.8px;top:867.50px;font-size:13px;line-height:13px;font-weight:normal;font-style:normal;color:#2b2b2b;font-family:'Liberation Sans', sans-serif;white-space:nowrap;">supination of forearm</div>
<div class="t" style="left:92.5px;top:887.16px;font-size:12.1px;line-height:12.1px;font-weight:bold;font-style:italic;color:#231f20;font-family:'Liberation Sans', sans-serif;">Brachialis</div>
<div class="t" style="left:221.8px;top:886.40px;font-size:13px;line-height:13px;font-weight:normal;font-style:normal;color:#2b2b2b;font-family:'Liberation Sans', sans-serif;white-space:nowrap;">humerus</div>
<div class="t" style="left:402.8px;top:886.40px;font-size:13px;line-height:13px;font-weight:normal;font-style:normal;color:#2b2b2b;font-family:'Liberation Sans', sans-serif;white-space:nowrap;">ulna</div>
<div class="t" style="left:586.8px;top:886.40px;font-size:13px;line-height:13px;font-weight:normal;font-style:normal;color:#2b2b2b;font-family:'Liberation Sans', sans-serif;white-space:nowrap;">flexion of forearm</div>
<div class="t" style="left:92.5px;top:906.16px;font-size:12.1px;line-height:12.1px;font-weight:bold;font-style:italic;color:#231f20;font-family:'Liberation Sans', sans-serif;">Brachioradialis</div>
<div class="t" style="left:221.8px;top:905.40px;font-size:13px;line-height:13px;font-weight:normal;font-style:normal;color:#2b2b2b;font-family:'Liberation Sans', sans-serif;white-space:nowrap;">distal styloid process of the</div>
<div class="t" style="left:221.8px;top:920.50px;font-size:13px;line-height:13px;font-weight:normal;font-style:normal;color:#2b2b2b;font-family:'Liberation Sans', sans-serif;white-space:nowrap;">radius</div>
<div class="t" style="left:402.8px;top:905.40px;font-size:13px;line-height:13px;font-weight:normal;font-style:normal;color:#2b2b2b;font-family:'Liberation Sans', sans-serif;white-space:nowrap;">lateral supracondylar ridge of</div>
<div class="t" style="left:402.8px;top:920.50px;font-size:13px;line-height:13px;font-weight:normal;font-style:normal;color:#2b2b2b;font-family:'Liberation Sans', sans-serif;white-space:nowrap;">the humerus</div>
<div class="t" style="left:586.8px;top:905.40px;font-size:13px;line-height:13px;font-weight:normal;font-style:normal;color:#2b2b2b;font-family:'Liberation Sans', sans-serif;white-space:nowrap;">flexion of forearm</div>
<div class="t" style="left:92.5px;top:940.16px;font-size:12.1px;line-height:12.1px;font-weight:bold;font-style:italic;color:#231f20;font-family:'Liberation Sans', sans-serif;">Triceps brachii</div>
<div class="t" style="left:221.8px;top:939.40px;font-size:13px;line-height:13px;font-weight:normal;font-style:normal;color:#2b2b2b;font-family:'Liberation Sans', sans-serif;white-space:nowrap;">inferior glenoid fossa and</div>
<div class="t" style="left:221.8px;top:954.50px;font-size:13px;line-height:13px;font-weight:normal;font-style:normal;color:#2b2b2b;font-family:'Liberation Sans', sans-serif;white-space:nowrap;">entire humeral shaft</div>
<div class="t" style="left:402.8px;top:939.40px;font-size:13px;line-height:13px;font-weight:normal;font-style:normal;color:#2b2b2b;font-family:'Liberation Sans', sans-serif;white-space:nowrap;">olecranon process of ulna</div>
<div class="t" style="left:586.8px;top:939.40px;font-size:13px;line-height:13px;font-weight:normal;font-style:normal;color:#2b2b2b;font-family:'Liberation Sans', sans-serif;white-space:nowrap;">extension of forearm</div>
<div style="position:absolute;left:87px;top:830px;width:688px;height:1px;background:#2f5669;"></div>
<div style="position:absolute;left:87px;top:849px;width:688px;height:1px;background:#2f5669;"></div>
<div style="position:absolute;left:87px;top:883px;width:688px;height:1px;background:#2f5669;"></div>
<div style="position:absolute;left:87px;top:902px;width:688px;height:1px;background:#2f5669;"></div>
<div style="position:absolute;left:87px;top:936px;width:688px;height:1px;background:#2f5669;"></div>
<div style="position:absolute;left:87px;top:970px;width:688px;height:1px;background:#2f5669;"></div>
<div style="position:absolute;left:217px;top:830px;width:1px;height:140px;background:#2f5669;"></div>
<div style="position:absolute;left:398px;top:830px;width:1px;height:140px;background:#2f5669;"></div>
<div style="position:absolute;left:582px;top:830px;width:1px;height:140px;background:#2f5669;"></div>
<div style="position:absolute;left:87px;top:611px;width:1px;height:360px;background:#2f5669;"></div>
<div style="position:absolute;left:774px;top:611px;width:1px;height:360px;background:#2f5669;"></div>
<div class="t" style="left:87.8px;top:973.80px;font-size:11.7px;line-height:11.7px;font-weight:bold;font-style:normal;color:#3b6a84;font-family:'Liberation Sans', sans-serif;">Figure 6.20</div>
<div class="t" style="right:74px;text-align:right;top:974.84px;font-size:7.8px;line-height:7.8px;font-weight:normal;font-style:italic;color:#333;font-family:'Liberation Serif', serif;white-space:nowrap;">Goodheart-Willcox Publisher</div>
<div class="t" style="left:87.8px;top:1052.68px;font-size:9.95px;line-height:9.95px;font-weight:normal;font-style:normal;color:#7a7a7a;font-family:'Liberation Sans', sans-serif;">Copyright Goodheart-Willcox Co., Inc.</div>

<div class="t" style="right:670.9px;text-align:right;top:216.12px;font-size:12.5px;line-height:12.5px;font-weight:normal;font-style:normal;color:#222;font-family:'Liberation Sans', sans-serif;">Deltoid</div>
<div class="t" style="right:670.9px;text-align:right;top:244.12px;font-size:12.5px;line-height:12.5px;font-weight:normal;font-style:normal;color:#222;font-family:'Liberation Sans', sans-serif;">Pectoralis major</div>
<div class="t" style="right:670.9px;text-align:right;top:272.12px;font-size:12.5px;line-height:12.5px;font-weight:normal;font-style:normal;color:#222;font-family:'Liberation Sans', sans-serif;">Sternum</div>
<div class="t" style="right:671.1px;text-align:right;top:341.62px;font-size:12.5px;line-height:12.5px;font-weight:normal;font-style:normal;color:#222;font-family:'Liberation Sans', sans-serif;">Biceps brachii</div>
<div class="t" style="right:671px;text-align:right;top:405.62px;font-size:12.5px;line-height:12.5px;font-weight:normal;font-style:normal;color:#222;font-family:'Liberation Sans', sans-serif;">Brachialis</div>
<div class="t" style="right:671px;text-align:right;top:438.62px;font-size:12.5px;line-height:12.5px;font-weight:normal;font-style:normal;color:#222;font-family:'Liberation Sans', sans-serif;">Brachioradialis</div>
<div class="t" style="right:316.29999999999995px;text-align:right;top:216.62px;font-size:12.5px;line-height:12.5px;font-weight:normal;font-style:normal;color:#222;font-family:'Liberation Sans', sans-serif;">Humerus</div>
<div class="t" style="right:316.29999999999995px;text-align:right;top:254.62px;font-size:12.5px;line-height:12.5px;font-weight:normal;font-style:normal;color:#222;font-family:'Liberation Sans', sans-serif;">Scapula</div>
<div class="t" style="right:243px;text-align:right;top:139.12px;font-size:12.5px;line-height:12.5px;font-weight:normal;font-style:normal;color:#222;font-family:'Liberation Sans', sans-serif;">Clavicle</div>
<div class="t" style="left:442.4px;top:306.92px;font-size:12.5px;line-height:12.5px;font-weight:normal;font-style:normal;color:#222;font-family:'Liberation Sans', sans-serif;">Triceps</div>
<div class="t" style="left:442.4px;top:321.52px;font-size:12.5px;line-height:12.5px;font-weight:normal;font-style:normal;color:#222;font-family:'Liberation Sans', sans-serif;">brachii</div>
<div class="t" style="right:298.20000000000005px;text-align:right;top:298.12px;font-size:12.5px;line-height:12.5px;font-weight:normal;font-style:normal;color:#222;font-family:'Liberation Sans', sans-serif;">Lateral</div>
<div class="t" style="right:298.20000000000005px;text-align:right;top:312.22px;font-size:12.5px;line-height:12.5px;font-weight:normal;font-style:normal;color:#222;font-family:'Liberation Sans', sans-serif;">head</div>
<div class="t" style="right:298.20000000000005px;text-align:right;top:332.92px;font-size:12.5px;line-height:12.5px;font-weight:normal;font-style:normal;color:#222;font-family:'Liberation Sans', sans-serif;">Long</div>
<div class="t" style="right:298.20000000000005px;text-align:right;top:347.22px;font-size:12.5px;line-height:12.5px;font-weight:normal;font-style:normal;color:#222;font-family:'Liberation Sans', sans-serif;">head</div>
<div class="t" style="left:442.4px;top:425.12px;font-size:12.5px;line-height:12.5px;font-weight:normal;font-style:normal;color:#222;font-family:'Liberation Sans', sans-serif;">Latissimus dorsi</div>

</body></html>
